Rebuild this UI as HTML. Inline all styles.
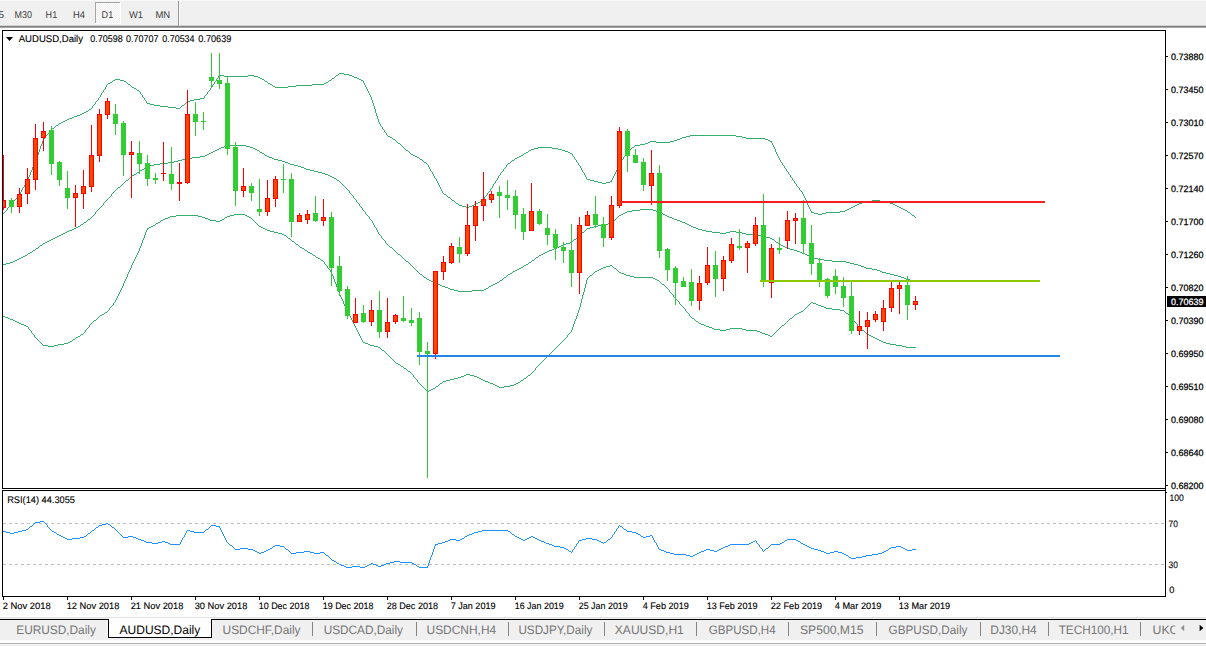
<!DOCTYPE html>
<html><head><meta charset="utf-8"><title>AUDUSD,Daily</title>
<style>
html,body{margin:0;padding:0;background:#fff;overflow:hidden}
svg{display:block}
text{font-family:"Liberation Sans",sans-serif;text-rendering:geometricPrecision}
.c{shape-rendering:crispEdges}
</style></head><body>
<svg width="1206" height="646" viewBox="0 0 1206 646">
<rect class="c" x="0" y="0" width="1206" height="646" fill="#fff"/>
<rect class="c" x="0" y="0" width="1206" height="25" fill="#f0f0f0"/>
<rect class="c" x="0" y="0" width="1206" height="1" fill="#f8f8f8"/>
<rect class="c" x="0" y="25" width="1206" height="1" fill="#d2d2d2"/>
<rect class="c" x="0" y="26" width="1206" height="1" fill="#7e7e7e"/>
<rect class="c" x="0" y="27" width="1206" height="1" fill="#a6a6a6"/>
<defs><pattern id="dz" width="2" height="2" patternUnits="userSpaceOnUse"><rect width="2" height="2" fill="#f0f0f0"/><rect width="1" height="1" fill="#fff"/><rect x="1" y="1" width="1" height="1" fill="#fff"/></pattern></defs>
<rect class="c" x="95" y="2" width="26" height="22" fill="url(#dz)"/>
<rect class="c" x="95" y="2" width="25" height="1" fill="#a4a4a4"/>
<rect class="c" x="95" y="2" width="1" height="22" fill="#a4a4a4"/>
<rect class="c" x="120" y="2" width="1" height="22" fill="#ffffff"/>
<rect class="c" x="95" y="23" width="26" height="1" fill="#ffffff"/>
<rect class="c" x="178" y="1" width="1" height="25" fill="#989898"/>
<rect class="c" x="179" y="1" width="1" height="25" fill="#fbfbfb"/>
<text x="-1.5" y="17.8" font-size="9.9" fill="#404040">5</text>
<text x="14.6" y="17.8" font-size="9.9" fill="#404040" textLength="17.4" lengthAdjust="spacingAndGlyphs">M30</text>
<text x="45.6" y="17.8" font-size="9.9" fill="#404040" textLength="11.6" lengthAdjust="spacingAndGlyphs">H1</text>
<text x="73" y="17.8" font-size="9.9" fill="#404040" textLength="12" lengthAdjust="spacingAndGlyphs">H4</text>
<text x="101.6" y="17.8" font-size="9.9" fill="#404040" textLength="11.6" lengthAdjust="spacingAndGlyphs">D1</text>
<text x="128.9" y="17.8" font-size="9.9" fill="#404040" textLength="14.1" lengthAdjust="spacingAndGlyphs">W1</text>
<text x="155.5" y="17.8" font-size="9.9" fill="#404040" textLength="14.7" lengthAdjust="spacingAndGlyphs">MN</text>
<rect class="c" x="2" y="30" width="1164" height="1" fill="#000"/>
<rect class="c" x="2" y="30" width="1" height="567" fill="#000"/>
<rect class="c" x="1165" y="30" width="1" height="567" fill="#000"/>
<rect class="c" x="2" y="488" width="1164" height="1" fill="#000"/>
<rect class="c" x="2" y="490" width="1164" height="1" fill="#000"/>
<rect class="c" x="2" y="596" width="1164" height="1" fill="#000"/>
<rect class="c" x="2" y="489" width="1" height="1" fill="#fff"/>
<rect class="c" x="1166" y="56" width="2" height="1" fill="#000"/>
<text x="1171.1" y="59.8" font-size="9.2" fill="#000" stroke="#000" stroke-width="0.25" textLength="32.4" lengthAdjust="spacingAndGlyphs">0.73880</text>
<rect class="c" x="1166" y="89" width="2" height="1" fill="#000"/>
<text x="1171.1" y="92.8" font-size="9.2" fill="#000" stroke="#000" stroke-width="0.25" textLength="32.4" lengthAdjust="spacingAndGlyphs">0.73450</text>
<rect class="c" x="1166" y="122" width="2" height="1" fill="#000"/>
<text x="1171.1" y="125.8" font-size="9.2" fill="#000" stroke="#000" stroke-width="0.25" textLength="32.4" lengthAdjust="spacingAndGlyphs">0.73010</text>
<rect class="c" x="1166" y="155" width="2" height="1" fill="#000"/>
<text x="1171.1" y="158.8" font-size="9.2" fill="#000" stroke="#000" stroke-width="0.25" textLength="32.4" lengthAdjust="spacingAndGlyphs">0.72570</text>
<rect class="c" x="1166" y="188" width="2" height="1" fill="#000"/>
<text x="1171.1" y="191.8" font-size="9.2" fill="#000" stroke="#000" stroke-width="0.25" textLength="32.4" lengthAdjust="spacingAndGlyphs">0.72140</text>
<rect class="c" x="1166" y="221" width="2" height="1" fill="#000"/>
<text x="1171.1" y="224.8" font-size="9.2" fill="#000" stroke="#000" stroke-width="0.25" textLength="32.4" lengthAdjust="spacingAndGlyphs">0.71700</text>
<rect class="c" x="1166" y="254" width="2" height="1" fill="#000"/>
<text x="1171.1" y="257.8" font-size="9.2" fill="#000" stroke="#000" stroke-width="0.25" textLength="32.4" lengthAdjust="spacingAndGlyphs">0.71260</text>
<rect class="c" x="1166" y="287" width="2" height="1" fill="#000"/>
<text x="1171.1" y="290.8" font-size="9.2" fill="#000" stroke="#000" stroke-width="0.25" textLength="32.4" lengthAdjust="spacingAndGlyphs">0.70820</text>
<rect class="c" x="1166" y="320" width="2" height="1" fill="#000"/>
<text x="1171.1" y="323.8" font-size="9.2" fill="#000" stroke="#000" stroke-width="0.25" textLength="32.4" lengthAdjust="spacingAndGlyphs">0.70390</text>
<rect class="c" x="1166" y="353" width="2" height="1" fill="#000"/>
<text x="1171.1" y="356.8" font-size="9.2" fill="#000" stroke="#000" stroke-width="0.25" textLength="32.4" lengthAdjust="spacingAndGlyphs">0.69950</text>
<rect class="c" x="1166" y="386" width="2" height="1" fill="#000"/>
<text x="1171.1" y="389.8" font-size="9.2" fill="#000" stroke="#000" stroke-width="0.25" textLength="32.4" lengthAdjust="spacingAndGlyphs">0.69510</text>
<rect class="c" x="1166" y="419" width="2" height="1" fill="#000"/>
<text x="1171.1" y="422.8" font-size="9.2" fill="#000" stroke="#000" stroke-width="0.25" textLength="32.4" lengthAdjust="spacingAndGlyphs">0.69080</text>
<rect class="c" x="1166" y="452" width="2" height="1" fill="#000"/>
<text x="1171.1" y="455.8" font-size="9.2" fill="#000" stroke="#000" stroke-width="0.25" textLength="32.4" lengthAdjust="spacingAndGlyphs">0.68640</text>
<rect class="c" x="1166" y="485" width="2" height="1" fill="#000"/>
<text x="1171.1" y="488.8" font-size="9.2" fill="#000" stroke="#000" stroke-width="0.25" textLength="32.4" lengthAdjust="spacingAndGlyphs">0.68200</text>
<rect class="c" x="1167" y="296" width="39" height="11" fill="#000"/>
<text x="1171.1" y="304.9" font-size="9.2" fill="#fff" stroke="#fff" stroke-width="0.25" textLength="32.4" lengthAdjust="spacingAndGlyphs">0.70639</text>
<path d="M6 37 L13 37 L9.5 41 Z" fill="#000"/>
<text x="18.7" y="42" font-size="9.8" fill="#000" stroke="#000" stroke-width="0.12" textLength="64.3" lengthAdjust="spacingAndGlyphs">AUDUSD,Daily</text>
<text x="90.3" y="42" font-size="9.8" fill="#000" stroke="#000" stroke-width="0.12" textLength="32.4" lengthAdjust="spacingAndGlyphs">0.70598</text>
<text x="126.1" y="42" font-size="9.8" fill="#000" stroke="#000" stroke-width="0.12" textLength="32.4" lengthAdjust="spacingAndGlyphs">0.70707</text>
<text x="162.2" y="42" font-size="9.8" fill="#000" stroke="#000" stroke-width="0.12" textLength="32.4" lengthAdjust="spacingAndGlyphs">0.70534</text>
<text x="198.3" y="42" font-size="9.8" fill="#000" stroke="#000" stroke-width="0.12" textLength="33" lengthAdjust="spacingAndGlyphs">0.70639</text>
<g clip-path="url(#cm)">
<defs><clipPath id="cm"><rect x="3" y="31" width="1162" height="457"/></clipPath></defs>
<path class="c" fill="#36ad6c" d="M339 73h5v1h-5zM338 74h1v1h-1zM344 74h5v1h-5zM219 75h5v1h-5zM248 75h6v1h-6zM336 75h2v1h-2zM349 75h3v1h-3zM218 76h1v1h-1zM224 76h24v1h-24zM254 76h4v1h-4zM335 76h1v1h-1zM352 76h2v1h-2zM218 77h1v1h-1zM258 77h2v1h-2zM334 77h1v1h-1zM354 77h3v1h-3zM217 78h1v1h-1zM260 78h2v1h-2zM332 78h2v1h-2zM357 78h2v1h-2zM115 79h5v1h-5zM216 79h1v1h-1zM262 79h2v1h-2zM331 79h1v1h-1zM359 79h2v1h-2zM113 80h2v1h-2zM120 80h4v1h-4zM216 80h1v1h-1zM264 80h1v1h-1zM329 80h2v1h-2zM361 80h2v1h-2zM112 81h1v1h-1zM124 81h2v1h-2zM215 81h1v1h-1zM265 81h2v1h-2zM328 81h1v1h-1zM363 81h1v1h-1zM110 82h2v1h-2zM126 82h1v1h-1zM214 82h1v1h-1zM267 82h1v1h-1zM326 82h2v1h-2zM363 82h1v1h-1zM108 83h2v1h-2zM127 83h1v1h-1zM214 83h1v1h-1zM268 83h2v1h-2zM324 83h2v1h-2zM364 83h1v1h-1zM107 84h1v1h-1zM128 84h2v1h-2zM213 84h1v1h-1zM270 84h2v1h-2zM312 84h12v1h-12zM364 84h1v1h-1zM106 85h1v1h-1zM130 85h1v1h-1zM212 85h1v1h-1zM272 85h1v1h-1zM296 85h16v1h-16zM365 85h1v1h-1zM106 86h1v1h-1zM131 86h1v1h-1zM212 86h1v1h-1zM273 86h2v1h-2zM288 86h8v1h-8zM365 86h1v1h-1zM105 87h1v1h-1zM132 87h2v1h-2zM211 87h1v1h-1zM275 87h13v1h-13zM366 87h1v1h-1zM105 88h1v1h-1zM134 88h2v1h-2zM210 88h1v1h-1zM366 88h1v1h-1zM104 89h1v1h-1zM136 89h1v1h-1zM210 89h1v1h-1zM367 89h1v1h-1zM103 90h1v1h-1zM137 90h2v1h-2zM209 90h1v1h-1zM367 90h1v1h-1zM103 91h1v1h-1zM139 91h1v1h-1zM208 91h1v1h-1zM368 91h1v1h-1zM102 92h1v1h-1zM140 92h1v1h-1zM207 92h1v1h-1zM368 92h1v1h-1zM101 93h1v1h-1zM140 93h1v1h-1zM207 93h1v1h-1zM369 93h1v1h-1zM101 94h1v1h-1zM141 94h1v1h-1zM206 94h1v1h-1zM369 94h1v1h-1zM100 95h1v1h-1zM142 95h1v1h-1zM205 95h1v1h-1zM370 95h1v1h-1zM100 96h1v1h-1zM142 96h1v1h-1zM204 96h1v1h-1zM370 96h1v1h-1zM99 97h1v1h-1zM143 97h1v1h-1zM204 97h1v1h-1zM371 97h1v1h-1zM98 98h1v1h-1zM144 98h1v1h-1zM200 98h4v1h-4zM371 98h1v1h-1zM98 99h1v1h-1zM144 99h1v1h-1zM194 99h6v1h-6zM371 99h1v1h-1zM97 100h1v1h-1zM145 100h1v1h-1zM190 100h4v1h-4zM372 100h1v1h-1zM96 101h1v1h-1zM146 101h1v1h-1zM187 101h3v1h-3zM372 101h1v1h-1zM95 102h1v1h-1zM146 102h1v1h-1zM186 102h1v1h-1zM372 102h1v1h-1zM95 103h1v1h-1zM147 103h3v1h-3zM185 103h1v1h-1zM373 103h1v1h-1zM94 104h1v1h-1zM150 104h4v1h-4zM184 104h1v1h-1zM373 104h1v1h-1zM93 105h1v1h-1zM154 105h6v1h-6zM182 105h2v1h-2zM373 105h1v1h-1zM92 106h1v1h-1zM160 106h8v1h-8zM181 106h1v1h-1zM374 106h1v1h-1zM92 107h1v1h-1zM168 107h8v1h-8zM180 107h1v1h-1zM374 107h1v1h-1zM91 108h1v1h-1zM176 108h4v1h-4zM374 108h1v1h-1zM89 109h2v1h-2zM375 109h1v1h-1zM88 110h1v1h-1zM375 110h1v1h-1zM86 111h2v1h-2zM375 111h1v1h-1zM84 112h2v1h-2zM375 112h1v1h-1zM82 113h2v1h-2zM376 113h1v1h-1zM80 114h2v1h-2zM376 114h1v1h-1zM77 115h3v1h-3zM376 115h1v1h-1zM74 116h3v1h-3zM377 116h1v1h-1zM72 117h2v1h-2zM377 117h1v1h-1zM69 118h3v1h-3zM377 118h1v1h-1zM67 119h2v1h-2zM378 119h1v1h-1zM65 120h2v1h-2zM378 120h1v1h-1zM63 121h2v1h-2zM378 121h1v1h-1zM61 122h2v1h-2zM379 122h1v1h-1zM59 123h2v1h-2zM379 123h1v1h-1zM58 124h1v1h-1zM380 124h1v1h-1zM56 125h2v1h-2zM380 125h1v1h-1zM55 126h1v1h-1zM381 126h1v1h-1zM54 127h1v1h-1zM382 127h1v1h-1zM52 128h2v1h-2zM382 128h1v1h-1zM51 129h1v1h-1zM383 129h1v1h-1zM50 130h1v1h-1zM384 130h1v1h-1zM49 131h1v1h-1zM384 131h1v1h-1zM49 132h1v1h-1zM385 132h1v1h-1zM48 133h1v1h-1zM386 133h1v1h-1zM47 134h1v1h-1zM386 134h1v1h-1zM46 135h1v1h-1zM387 135h1v1h-1zM690 135h46v1h-46zM45 136h1v1h-1zM388 136h2v1h-2zM686 136h4v1h-4zM736 136h6v1h-6zM45 137h1v1h-1zM390 137h2v1h-2zM682 137h4v1h-4zM742 137h4v1h-4zM44 138h1v1h-1zM392 138h1v1h-1zM680 138h2v1h-2zM746 138h19v1h-19zM43 139h1v1h-1zM393 139h2v1h-2zM677 139h3v1h-3zM765 139h3v1h-3zM43 140h1v1h-1zM395 140h1v1h-1zM674 140h3v1h-3zM768 140h2v1h-2zM42 141h1v1h-1zM396 141h1v1h-1zM650 141h6v1h-6zM670 141h4v1h-4zM770 141h2v1h-2zM42 142h1v1h-1zM397 142h1v1h-1zM648 142h2v1h-2zM656 142h14v1h-14zM771 142h1v1h-1zM42 143h1v1h-1zM398 143h2v1h-2zM645 143h3v1h-3zM772 143h1v1h-1zM41 144h1v1h-1zM400 144h1v1h-1zM640 144h5v1h-5zM772 144h1v1h-1zM41 145h1v1h-1zM401 145h1v1h-1zM635 145h5v1h-5zM773 145h1v1h-1zM40 146h1v1h-1zM402 146h1v1h-1zM634 146h1v1h-1zM773 146h1v1h-1zM40 147h1v1h-1zM403 147h1v1h-1zM538 147h14v1h-14zM632 147h2v1h-2zM774 147h1v1h-1zM40 148h1v1h-1zM404 148h1v1h-1zM534 148h4v1h-4zM552 148h6v1h-6zM631 148h1v1h-1zM774 148h1v1h-1zM39 149h1v1h-1zM405 149h1v1h-1zM531 149h3v1h-3zM558 149h4v1h-4zM630 149h1v1h-1zM775 149h1v1h-1zM39 150h1v1h-1zM406 150h2v1h-2zM529 150h2v1h-2zM562 150h3v1h-3zM628 150h2v1h-2zM775 150h1v1h-1zM39 151h1v1h-1zM408 151h1v1h-1zM528 151h1v1h-1zM565 151h3v1h-3zM627 151h1v1h-1zM775 151h1v1h-1zM38 152h1v1h-1zM409 152h1v1h-1zM526 152h2v1h-2zM568 152h2v1h-2zM626 152h1v1h-1zM776 152h1v1h-1zM38 153h1v1h-1zM410 153h1v1h-1zM524 153h2v1h-2zM570 153h2v1h-2zM626 153h1v1h-1zM776 153h1v1h-1zM38 154h1v1h-1zM411 154h2v1h-2zM523 154h1v1h-1zM572 154h1v1h-1zM625 154h1v1h-1zM777 154h1v1h-1zM37 155h1v1h-1zM413 155h2v1h-2zM521 155h2v1h-2zM572 155h1v1h-1zM625 155h1v1h-1zM777 155h1v1h-1zM37 156h1v1h-1zM415 156h2v1h-2zM519 156h2v1h-2zM573 156h1v1h-1zM624 156h1v1h-1zM778 156h1v1h-1zM36 157h1v1h-1zM417 157h2v1h-2zM517 157h2v1h-2zM574 157h1v1h-1zM623 157h1v1h-1zM778 157h1v1h-1zM36 158h1v1h-1zM419 158h1v1h-1zM515 158h2v1h-2zM574 158h1v1h-1zM623 158h1v1h-1zM779 158h1v1h-1zM36 159h1v1h-1zM420 159h2v1h-2zM514 159h1v1h-1zM575 159h1v1h-1zM622 159h1v1h-1zM779 159h1v1h-1zM35 160h1v1h-1zM422 160h1v1h-1zM512 160h2v1h-2zM576 160h1v1h-1zM621 160h1v1h-1zM780 160h1v1h-1zM35 161h1v1h-1zM423 161h1v1h-1zM511 161h1v1h-1zM576 161h1v1h-1zM621 161h1v1h-1zM780 161h1v1h-1zM35 162h1v1h-1zM424 162h2v1h-2zM510 162h1v1h-1zM577 162h1v1h-1zM620 162h1v1h-1zM781 162h1v1h-1zM34 163h1v1h-1zM426 163h1v1h-1zM508 163h2v1h-2zM578 163h1v1h-1zM620 163h1v1h-1zM782 163h1v1h-1zM34 164h1v1h-1zM427 164h1v1h-1zM507 164h1v1h-1zM578 164h1v1h-1zM619 164h1v1h-1zM782 164h1v1h-1zM33 165h1v1h-1zM428 165h1v1h-1zM506 165h1v1h-1zM579 165h1v1h-1zM619 165h1v1h-1zM783 165h1v1h-1zM33 166h1v1h-1zM428 166h1v1h-1zM506 166h1v1h-1zM580 166h1v1h-1zM618 166h1v1h-1zM784 166h1v1h-1zM32 167h1v1h-1zM429 167h1v1h-1zM505 167h1v1h-1zM580 167h1v1h-1zM618 167h1v1h-1zM784 167h1v1h-1zM32 168h1v1h-1zM429 168h1v1h-1zM504 168h1v1h-1zM581 168h1v1h-1zM617 168h1v1h-1zM785 168h1v1h-1zM32 169h1v1h-1zM430 169h1v1h-1zM503 169h1v1h-1zM581 169h1v1h-1zM617 169h1v1h-1zM786 169h1v1h-1zM31 170h1v1h-1zM430 170h1v1h-1zM503 170h1v1h-1zM582 170h1v1h-1zM616 170h1v1h-1zM786 170h1v1h-1zM31 171h1v1h-1zM431 171h1v1h-1zM502 171h1v1h-1zM582 171h1v1h-1zM616 171h1v1h-1zM787 171h1v1h-1zM30 172h1v1h-1zM432 172h1v1h-1zM501 172h1v1h-1zM583 172h1v1h-1zM615 172h1v1h-1zM788 172h1v1h-1zM30 173h1v1h-1zM432 173h1v1h-1zM500 173h1v1h-1zM584 173h1v1h-1zM615 173h1v1h-1zM788 173h1v1h-1zM30 174h1v1h-1zM433 174h1v1h-1zM500 174h1v1h-1zM584 174h1v1h-1zM614 174h1v1h-1zM789 174h1v1h-1zM29 175h1v1h-1zM433 175h1v1h-1zM499 175h1v1h-1zM585 175h1v1h-1zM614 175h1v1h-1zM790 175h1v1h-1zM29 176h1v1h-1zM434 176h1v1h-1zM498 176h1v1h-1zM585 176h1v1h-1zM613 176h1v1h-1zM790 176h1v1h-1zM28 177h1v1h-1zM434 177h1v1h-1zM498 177h1v1h-1zM586 177h1v1h-1zM613 177h1v1h-1zM791 177h1v1h-1zM28 178h1v1h-1zM435 178h1v1h-1zM497 178h1v1h-1zM586 178h1v1h-1zM612 178h1v1h-1zM792 178h1v1h-1zM27 179h1v1h-1zM436 179h1v1h-1zM497 179h1v1h-1zM587 179h3v1h-3zM612 179h1v1h-1zM792 179h1v1h-1zM27 180h1v1h-1zM436 180h1v1h-1zM496 180h1v1h-1zM590 180h4v1h-4zM611 180h1v1h-1zM793 180h1v1h-1zM26 181h1v1h-1zM437 181h1v1h-1zM495 181h1v1h-1zM594 181h4v1h-4zM610 181h2v1h-2zM794 181h1v1h-1zM26 182h1v1h-1zM437 182h1v1h-1zM495 182h1v1h-1zM598 182h4v1h-4zM606 182h4v1h-4zM794 182h1v1h-1zM25 183h1v1h-1zM438 183h1v1h-1zM494 183h1v1h-1zM602 183h4v1h-4zM795 183h1v1h-1zM25 184h1v1h-1zM438 184h1v1h-1zM493 184h1v1h-1zM796 184h1v1h-1zM24 185h1v1h-1zM439 185h1v1h-1zM493 185h1v1h-1zM796 185h1v1h-1zM24 186h1v1h-1zM439 186h1v1h-1zM492 186h1v1h-1zM797 186h1v1h-1zM23 187h1v1h-1zM440 187h1v1h-1zM492 187h1v1h-1zM798 187h1v1h-1zM22 188h1v1h-1zM440 188h1v1h-1zM491 188h1v1h-1zM799 188h1v1h-1zM22 189h1v1h-1zM441 189h1v1h-1zM490 189h1v1h-1zM799 189h1v1h-1zM21 190h1v1h-1zM441 190h1v1h-1zM490 190h1v1h-1zM800 190h1v1h-1zM21 191h1v1h-1zM442 191h1v1h-1zM489 191h1v1h-1zM801 191h1v1h-1zM20 192h1v1h-1zM442 192h1v1h-1zM488 192h1v1h-1zM802 192h1v1h-1zM20 193h1v1h-1zM443 193h1v1h-1zM487 193h1v1h-1zM802 193h1v1h-1zM19 194h1v1h-1zM444 194h2v1h-2zM487 194h1v1h-1zM803 194h1v1h-1zM18 195h1v1h-1zM446 195h1v1h-1zM486 195h1v1h-1zM803 195h1v1h-1zM17 196h1v1h-1zM447 196h1v1h-1zM485 196h1v1h-1zM804 196h1v1h-1zM17 197h1v1h-1zM448 197h2v1h-2zM484 197h1v1h-1zM804 197h1v1h-1zM16 198h1v1h-1zM450 198h1v1h-1zM484 198h1v1h-1zM805 198h1v1h-1zM15 199h1v1h-1zM451 199h1v1h-1zM483 199h1v1h-1zM805 199h1v1h-1zM14 200h1v1h-1zM452 200h2v1h-2zM481 200h2v1h-2zM806 200h1v1h-1zM872 200h8v1h-8zM13 201h1v1h-1zM454 201h1v1h-1zM480 201h1v1h-1zM806 201h1v1h-1zM866 201h6v1h-6zM880 201h6v1h-6zM13 202h1v1h-1zM455 202h1v1h-1zM478 202h2v1h-2zM807 202h1v1h-1zM862 202h4v1h-4zM886 202h4v1h-4zM12 203h1v1h-1zM456 203h2v1h-2zM476 203h2v1h-2zM807 203h1v1h-1zM859 203h3v1h-3zM890 203h3v1h-3zM11 204h1v1h-1zM458 204h1v1h-1zM474 204h2v1h-2zM807 204h1v1h-1zM857 204h2v1h-2zM893 204h2v1h-2zM10 205h1v1h-1zM459 205h3v1h-3zM472 205h2v1h-2zM808 205h1v1h-1zM855 205h2v1h-2zM895 205h2v1h-2zM9 206h1v1h-1zM462 206h4v1h-4zM469 206h3v1h-3zM808 206h1v1h-1zM853 206h2v1h-2zM897 206h2v1h-2zM8 207h1v1h-1zM466 207h3v1h-3zM809 207h1v1h-1zM851 207h2v1h-2zM899 207h2v1h-2zM7 208h1v1h-1zM809 208h1v1h-1zM849 208h2v1h-2zM901 208h2v1h-2zM7 209h1v1h-1zM810 209h1v1h-1zM847 209h2v1h-2zM903 209h2v1h-2zM6 210h1v1h-1zM810 210h1v1h-1zM845 210h2v1h-2zM905 210h2v1h-2zM5 211h1v1h-1zM811 211h1v1h-1zM840 211h5v1h-5zM907 211h1v1h-1zM4 212h1v1h-1zM811 212h3v1h-3zM826 212h14v1h-14zM908 212h2v1h-2zM3 213h1v1h-1zM814 213h4v1h-4zM822 213h4v1h-4zM910 213h1v1h-1zM818 214h4v1h-4zM911 214h1v1h-1zM912 215h2v1h-2zM914 216h1v1h-1zM915 217h1v1h-1z"/>
<path class="c" fill="#36ad6c" d="M226 145h20v1h-20zM224 146h2v1h-2zM246 146h4v1h-4zM221 147h3v1h-3zM250 147h3v1h-3zM219 148h2v1h-2zM253 148h2v1h-2zM217 149h2v1h-2zM255 149h2v1h-2zM215 150h2v1h-2zM257 150h2v1h-2zM213 151h2v1h-2zM259 151h1v1h-1zM211 152h2v1h-2zM260 152h2v1h-2zM209 153h2v1h-2zM262 153h2v1h-2zM207 154h2v1h-2zM264 154h1v1h-1zM205 155h2v1h-2zM265 155h2v1h-2zM200 156h5v1h-5zM267 156h2v1h-2zM192 157h8v1h-8zM269 157h3v1h-3zM186 158h6v1h-6zM272 158h2v1h-2zM182 159h4v1h-4zM274 159h4v1h-4zM178 160h4v1h-4zM278 160h4v1h-4zM174 161h4v1h-4zM282 161h3v1h-3zM168 162h6v1h-6zM285 162h3v1h-3zM160 163h8v1h-8zM288 163h2v1h-2zM154 164h6v1h-6zM290 164h4v1h-4zM150 165h4v1h-4zM294 165h4v1h-4zM147 166h3v1h-3zM298 166h3v1h-3zM145 167h2v1h-2zM301 167h3v1h-3zM144 168h1v1h-1zM304 168h2v1h-2zM142 169h2v1h-2zM306 169h4v1h-4zM140 170h2v1h-2zM310 170h4v1h-4zM139 171h1v1h-1zM314 171h4v1h-4zM137 172h2v1h-2zM318 172h4v1h-4zM136 173h1v1h-1zM322 173h3v1h-3zM134 174h2v1h-2zM325 174h3v1h-3zM132 175h2v1h-2zM328 175h2v1h-2zM131 176h1v1h-1zM330 176h2v1h-2zM130 177h1v1h-1zM332 177h2v1h-2zM129 178h1v1h-1zM334 178h2v1h-2zM128 179h1v1h-1zM336 179h1v1h-1zM126 180h2v1h-2zM337 180h2v1h-2zM125 181h1v1h-1zM339 181h1v1h-1zM124 182h1v1h-1zM340 182h1v1h-1zM123 183h1v1h-1zM341 183h1v1h-1zM122 184h1v1h-1zM342 184h1v1h-1zM121 185h1v1h-1zM343 185h1v1h-1zM120 186h1v1h-1zM344 186h1v1h-1zM118 187h2v1h-2zM345 187h1v1h-1zM117 188h1v1h-1zM346 188h1v1h-1zM116 189h1v1h-1zM347 189h1v1h-1zM115 190h1v1h-1zM348 190h1v1h-1zM114 191h1v1h-1zM349 191h1v1h-1zM113 192h1v1h-1zM349 192h1v1h-1zM112 193h1v1h-1zM350 193h1v1h-1zM111 194h1v1h-1zM351 194h1v1h-1zM111 195h1v1h-1zM352 195h1v1h-1zM110 196h1v1h-1zM353 196h1v1h-1zM109 197h1v1h-1zM353 197h1v1h-1zM108 198h1v1h-1zM354 198h1v1h-1zM107 199h1v1h-1zM355 199h1v1h-1zM106 200h1v1h-1zM356 200h1v1h-1zM105 201h1v1h-1zM356 201h1v1h-1zM104 202h1v1h-1zM357 202h1v1h-1zM103 203h1v1h-1zM358 203h1v1h-1zM103 204h1v1h-1zM359 204h1v1h-1zM102 205h1v1h-1zM359 205h1v1h-1zM101 206h1v1h-1zM360 206h1v1h-1zM100 207h1v1h-1zM361 207h1v1h-1zM99 208h1v1h-1zM362 208h1v1h-1zM98 209h1v1h-1zM362 209h1v1h-1zM640 209h13v1h-13zM97 210h1v1h-1zM363 210h1v1h-1zM632 210h8v1h-8zM653 210h3v1h-3zM96 211h1v1h-1zM364 211h1v1h-1zM627 211h5v1h-5zM656 211h2v1h-2zM95 212h1v1h-1zM365 212h1v1h-1zM625 212h2v1h-2zM658 212h3v1h-3zM95 213h1v1h-1zM365 213h1v1h-1zM623 213h2v1h-2zM661 213h2v1h-2zM94 214h1v1h-1zM366 214h1v1h-1zM621 214h2v1h-2zM663 214h2v1h-2zM93 215h1v1h-1zM367 215h1v1h-1zM619 215h2v1h-2zM665 215h2v1h-2zM92 216h1v1h-1zM368 216h1v1h-1zM618 216h1v1h-1zM667 216h2v1h-2zM91 217h1v1h-1zM369 217h1v1h-1zM617 217h1v1h-1zM669 217h3v1h-3zM90 218h1v1h-1zM369 218h1v1h-1zM616 218h1v1h-1zM672 218h2v1h-2zM88 219h2v1h-2zM370 219h1v1h-1zM615 219h1v1h-1zM674 219h3v1h-3zM87 220h1v1h-1zM371 220h1v1h-1zM614 220h1v1h-1zM677 220h3v1h-3zM86 221h1v1h-1zM372 221h1v1h-1zM613 221h1v1h-1zM680 221h2v1h-2zM84 222h2v1h-2zM372 222h1v1h-1zM612 222h1v1h-1zM682 222h3v1h-3zM83 223h1v1h-1zM373 223h1v1h-1zM608 223h4v1h-4zM685 223h2v1h-2zM81 224h2v1h-2zM373 224h1v1h-1zM602 224h6v1h-6zM687 224h2v1h-2zM80 225h1v1h-1zM374 225h1v1h-1zM598 225h4v1h-4zM689 225h2v1h-2zM78 226h2v1h-2zM374 226h1v1h-1zM594 226h4v1h-4zM691 226h2v1h-2zM76 227h2v1h-2zM375 227h1v1h-1zM590 227h4v1h-4zM693 227h3v1h-3zM74 228h2v1h-2zM376 228h1v1h-1zM587 228h3v1h-3zM696 228h2v1h-2zM72 229h2v1h-2zM376 229h1v1h-1zM586 229h1v1h-1zM698 229h4v1h-4zM69 230h3v1h-3zM377 230h1v1h-1zM585 230h1v1h-1zM702 230h4v1h-4zM67 231h2v1h-2zM377 231h1v1h-1zM584 231h1v1h-1zM706 231h6v1h-6zM730 231h6v1h-6zM65 232h2v1h-2zM378 232h1v1h-1zM582 232h2v1h-2zM712 232h8v1h-8zM726 232h4v1h-4zM736 232h6v1h-6zM63 233h2v1h-2zM378 233h1v1h-1zM581 233h1v1h-1zM720 233h6v1h-6zM742 233h4v1h-4zM61 234h2v1h-2zM379 234h1v1h-1zM580 234h1v1h-1zM746 234h12v1h-12zM59 235h2v1h-2zM380 235h1v1h-1zM579 235h1v1h-1zM758 235h4v1h-4zM57 236h2v1h-2zM381 236h1v1h-1zM578 236h1v1h-1zM762 236h4v1h-4zM55 237h2v1h-2zM381 237h1v1h-1zM577 237h1v1h-1zM766 237h4v1h-4zM53 238h2v1h-2zM382 238h1v1h-1zM576 238h1v1h-1zM770 238h2v1h-2zM51 239h2v1h-2zM383 239h1v1h-1zM574 239h2v1h-2zM772 239h2v1h-2zM49 240h2v1h-2zM384 240h1v1h-1zM573 240h1v1h-1zM774 240h1v1h-1zM47 241h2v1h-2zM385 241h1v1h-1zM572 241h1v1h-1zM775 241h1v1h-1zM45 242h2v1h-2zM385 242h1v1h-1zM570 242h2v1h-2zM776 242h2v1h-2zM43 243h2v1h-2zM386 243h1v1h-1zM566 243h4v1h-4zM778 243h1v1h-1zM42 244h1v1h-1zM387 244h1v1h-1zM563 244h3v1h-3zM779 244h2v1h-2zM40 245h2v1h-2zM388 245h1v1h-1zM561 245h2v1h-2zM781 245h2v1h-2zM39 246h1v1h-1zM389 246h1v1h-1zM559 246h2v1h-2zM783 246h2v1h-2zM38 247h1v1h-1zM390 247h2v1h-2zM557 247h2v1h-2zM785 247h2v1h-2zM36 248h2v1h-2zM392 248h1v1h-1zM554 248h3v1h-3zM787 248h3v1h-3zM35 249h1v1h-1zM393 249h1v1h-1zM552 249h2v1h-2zM790 249h4v1h-4zM33 250h2v1h-2zM394 250h1v1h-1zM549 250h3v1h-3zM794 250h3v1h-3zM32 251h1v1h-1zM395 251h1v1h-1zM547 251h2v1h-2zM797 251h3v1h-3zM30 252h2v1h-2zM396 252h1v1h-1zM545 252h2v1h-2zM800 252h2v1h-2zM28 253h2v1h-2zM397 253h1v1h-1zM543 253h2v1h-2zM802 253h3v1h-3zM27 254h1v1h-1zM398 254h2v1h-2zM541 254h2v1h-2zM805 254h2v1h-2zM25 255h2v1h-2zM400 255h1v1h-1zM539 255h2v1h-2zM807 255h2v1h-2zM23 256h2v1h-2zM401 256h1v1h-1zM538 256h1v1h-1zM809 256h2v1h-2zM21 257h2v1h-2zM402 257h1v1h-1zM536 257h2v1h-2zM811 257h3v1h-3zM19 258h2v1h-2zM403 258h1v1h-1zM535 258h1v1h-1zM814 258h4v1h-4zM17 259h2v1h-2zM404 259h1v1h-1zM534 259h1v1h-1zM818 259h6v1h-6zM15 260h2v1h-2zM405 260h1v1h-1zM532 260h2v1h-2zM824 260h8v1h-8zM13 261h2v1h-2zM406 261h2v1h-2zM531 261h1v1h-1zM832 261h14v1h-14zM10 262h3v1h-3zM408 262h1v1h-1zM529 262h2v1h-2zM846 262h4v1h-4zM6 263h4v1h-4zM409 263h1v1h-1zM528 263h1v1h-1zM850 263h4v1h-4zM3 264h3v1h-3zM410 264h1v1h-1zM526 264h2v1h-2zM854 264h4v1h-4zM411 265h1v1h-1zM524 265h2v1h-2zM858 265h3v1h-3zM412 266h1v1h-1zM523 266h1v1h-1zM861 266h3v1h-3zM413 267h1v1h-1zM521 267h2v1h-2zM864 267h2v1h-2zM414 268h1v1h-1zM519 268h2v1h-2zM866 268h6v1h-6zM415 269h1v1h-1zM517 269h2v1h-2zM872 269h5v1h-5zM416 270h1v1h-1zM515 270h2v1h-2zM877 270h3v1h-3zM417 271h1v1h-1zM513 271h2v1h-2zM880 271h2v1h-2zM418 272h1v1h-1zM512 272h1v1h-1zM882 272h4v1h-4zM419 273h1v1h-1zM510 273h2v1h-2zM886 273h4v1h-4zM420 274h2v1h-2zM508 274h2v1h-2zM890 274h4v1h-4zM422 275h1v1h-1zM507 275h1v1h-1zM894 275h4v1h-4zM423 276h1v1h-1zM506 276h1v1h-1zM898 276h3v1h-3zM424 277h2v1h-2zM504 277h2v1h-2zM901 277h3v1h-3zM426 278h1v1h-1zM503 278h1v1h-1zM904 278h2v1h-2zM427 279h2v1h-2zM502 279h1v1h-1zM906 279h4v1h-4zM429 280h2v1h-2zM500 280h2v1h-2zM910 280h4v1h-4zM431 281h2v1h-2zM499 281h1v1h-1zM914 281h2v1h-2zM433 282h2v1h-2zM497 282h2v1h-2zM435 283h2v1h-2zM495 283h2v1h-2zM437 284h3v1h-3zM493 284h2v1h-2zM440 285h2v1h-2zM491 285h2v1h-2zM442 286h3v1h-3zM489 286h2v1h-2zM445 287h3v1h-3zM488 287h1v1h-1zM448 288h2v1h-2zM486 288h2v1h-2zM450 289h4v1h-4zM484 289h2v1h-2zM454 290h4v1h-4zM472 290h12v1h-12zM458 291h14v1h-14z"/>
<path class="c" fill="#36ad6c" d="M234 214h11v1h-11zM176 215h22v1h-22zM230 215h4v1h-4zM245 215h2v1h-2zM170 216h6v1h-6zM198 216h4v1h-4zM227 216h3v1h-3zM247 216h2v1h-2zM168 217h2v1h-2zM202 217h3v1h-3zM225 217h2v1h-2zM249 217h2v1h-2zM165 218h3v1h-3zM205 218h3v1h-3zM224 218h1v1h-1zM251 218h1v1h-1zM163 219h2v1h-2zM208 219h2v1h-2zM222 219h2v1h-2zM252 219h1v1h-1zM161 220h2v1h-2zM210 220h6v1h-6zM220 220h2v1h-2zM253 220h1v1h-1zM160 221h1v1h-1zM216 221h4v1h-4zM254 221h1v1h-1zM158 222h2v1h-2zM255 222h1v1h-1zM156 223h2v1h-2zM256 223h1v1h-1zM155 224h1v1h-1zM257 224h1v1h-1zM153 225h2v1h-2zM258 225h1v1h-1zM151 226h2v1h-2zM259 226h2v1h-2zM149 227h2v1h-2zM261 227h2v1h-2zM147 228h2v1h-2zM263 228h2v1h-2zM147 229h1v1h-1zM265 229h2v1h-2zM146 230h1v1h-1zM267 230h3v1h-3zM146 231h1v1h-1zM270 231h4v1h-4zM145 232h1v1h-1zM274 232h4v1h-4zM145 233h1v1h-1zM278 233h4v1h-4zM145 234h1v1h-1zM282 234h2v1h-2zM144 235h1v1h-1zM284 235h2v1h-2zM144 236h1v1h-1zM286 236h1v1h-1zM144 237h1v1h-1zM287 237h1v1h-1zM143 238h1v1h-1zM288 238h2v1h-2zM143 239h1v1h-1zM290 239h1v1h-1zM142 240h1v1h-1zM291 240h1v1h-1zM142 241h1v1h-1zM292 241h2v1h-2zM142 242h1v1h-1zM294 242h1v1h-1zM141 243h1v1h-1zM295 243h1v1h-1zM141 244h1v1h-1zM296 244h2v1h-2zM141 245h1v1h-1zM298 245h1v1h-1zM140 246h1v1h-1zM299 246h1v1h-1zM140 247h1v1h-1zM300 247h2v1h-2zM139 248h1v1h-1zM302 248h2v1h-2zM139 249h1v1h-1zM304 249h1v1h-1zM139 250h1v1h-1zM305 250h2v1h-2zM138 251h1v1h-1zM307 251h1v1h-1zM138 252h1v1h-1zM308 252h2v1h-2zM137 253h1v1h-1zM310 253h2v1h-2zM137 254h1v1h-1zM312 254h1v1h-1zM136 255h1v1h-1zM313 255h2v1h-2zM136 256h1v1h-1zM315 256h1v1h-1zM135 257h1v1h-1zM316 257h2v1h-2zM135 258h1v1h-1zM318 258h2v1h-2zM134 259h1v1h-1zM320 259h1v1h-1zM134 260h1v1h-1zM321 260h2v1h-2zM133 261h1v1h-1zM323 261h1v1h-1zM133 262h1v1h-1zM324 262h1v1h-1zM132 263h1v1h-1zM324 263h1v1h-1zM132 264h1v1h-1zM325 264h1v1h-1zM131 265h1v1h-1zM326 265h1v1h-1zM610 265h2v1h-2zM131 266h1v1h-1zM327 266h1v1h-1zM606 266h4v1h-4zM612 266h1v1h-1zM131 267h1v1h-1zM327 267h1v1h-1zM603 267h3v1h-3zM613 267h1v1h-1zM130 268h1v1h-1zM328 268h1v1h-1zM601 268h2v1h-2zM614 268h2v1h-2zM130 269h1v1h-1zM329 269h1v1h-1zM599 269h2v1h-2zM616 269h1v1h-1zM129 270h1v1h-1zM330 270h1v1h-1zM597 270h2v1h-2zM617 270h1v1h-1zM129 271h1v1h-1zM330 271h1v1h-1zM595 271h2v1h-2zM618 271h1v1h-1zM128 272h1v1h-1zM331 272h1v1h-1zM594 272h1v1h-1zM619 272h2v1h-2zM128 273h1v1h-1zM331 273h1v1h-1zM593 273h1v1h-1zM621 273h3v1h-3zM127 274h1v1h-1zM332 274h1v1h-1zM592 274h1v1h-1zM624 274h2v1h-2zM127 275h1v1h-1zM332 275h1v1h-1zM590 275h2v1h-2zM626 275h4v1h-4zM127 276h1v1h-1zM333 276h1v1h-1zM589 276h1v1h-1zM630 276h4v1h-4zM126 277h1v1h-1zM333 277h1v1h-1zM588 277h1v1h-1zM634 277h19v1h-19zM126 278h1v1h-1zM333 278h1v1h-1zM587 278h1v1h-1zM653 278h2v1h-2zM125 279h1v1h-1zM334 279h1v1h-1zM587 279h1v1h-1zM655 279h2v1h-2zM125 280h1v1h-1zM334 280h1v1h-1zM586 280h1v1h-1zM657 280h2v1h-2zM124 281h1v1h-1zM334 281h1v1h-1zM586 281h1v1h-1zM659 281h1v1h-1zM124 282h1v1h-1zM335 282h1v1h-1zM586 282h1v1h-1zM660 282h1v1h-1zM123 283h1v1h-1zM335 283h1v1h-1zM586 283h1v1h-1zM661 283h1v1h-1zM123 284h1v1h-1zM336 284h1v1h-1zM585 284h1v1h-1zM662 284h2v1h-2zM123 285h1v1h-1zM336 285h1v1h-1zM585 285h1v1h-1zM664 285h1v1h-1zM122 286h1v1h-1zM336 286h1v1h-1zM585 286h1v1h-1zM665 286h1v1h-1zM122 287h1v1h-1zM337 287h1v1h-1zM585 287h1v1h-1zM666 287h1v1h-1zM121 288h1v1h-1zM337 288h1v1h-1zM584 288h1v1h-1zM667 288h1v1h-1zM121 289h1v1h-1zM337 289h1v1h-1zM584 289h1v1h-1zM668 289h1v1h-1zM120 290h1v1h-1zM338 290h1v1h-1zM584 290h1v1h-1zM669 290h1v1h-1zM120 291h1v1h-1zM338 291h1v1h-1zM584 291h1v1h-1zM669 291h1v1h-1zM119 292h1v1h-1zM339 292h1v1h-1zM583 292h1v1h-1zM670 292h1v1h-1zM119 293h1v1h-1zM339 293h1v1h-1zM583 293h1v1h-1zM671 293h1v1h-1zM118 294h1v1h-1zM339 294h1v1h-1zM583 294h1v1h-1zM672 294h1v1h-1zM118 295h1v1h-1zM340 295h1v1h-1zM582 295h1v1h-1zM673 295h1v1h-1zM117 296h1v1h-1zM340 296h1v1h-1zM582 296h1v1h-1zM673 296h1v1h-1zM117 297h1v1h-1zM341 297h1v1h-1zM582 297h1v1h-1zM674 297h1v1h-1zM116 298h1v1h-1zM341 298h1v1h-1zM582 298h1v1h-1zM675 298h1v1h-1zM116 299h1v1h-1zM342 299h1v1h-1zM581 299h1v1h-1zM676 299h1v1h-1zM115 300h1v1h-1zM342 300h1v1h-1zM581 300h1v1h-1zM677 300h1v1h-1zM115 301h1v1h-1zM343 301h1v1h-1zM581 301h1v1h-1zM678 301h1v1h-1zM114 302h1v1h-1zM343 302h1v1h-1zM581 302h1v1h-1zM679 302h1v1h-1zM811 302h2v1h-2zM113 303h1v1h-1zM343 303h1v1h-1zM580 303h1v1h-1zM679 303h1v1h-1zM810 303h1v1h-1zM813 303h3v1h-3zM113 304h1v1h-1zM344 304h1v1h-1zM580 304h1v1h-1zM680 304h1v1h-1zM809 304h1v1h-1zM816 304h2v1h-2zM112 305h1v1h-1zM344 305h1v1h-1zM580 305h1v1h-1zM681 305h1v1h-1zM808 305h1v1h-1zM818 305h3v1h-3zM111 306h1v1h-1zM345 306h1v1h-1zM580 306h1v1h-1zM682 306h1v1h-1zM807 306h1v1h-1zM821 306h3v1h-3zM110 307h1v1h-1zM345 307h1v1h-1zM579 307h1v1h-1zM683 307h1v1h-1zM806 307h1v1h-1zM824 307h2v1h-2zM109 308h1v1h-1zM346 308h1v1h-1zM579 308h1v1h-1zM684 308h1v1h-1zM805 308h1v1h-1zM826 308h6v1h-6zM109 309h1v1h-1zM346 309h1v1h-1zM579 309h1v1h-1zM685 309h1v1h-1zM804 309h1v1h-1zM832 309h8v1h-8zM108 310h1v1h-1zM347 310h1v1h-1zM578 310h1v1h-1zM685 310h1v1h-1zM803 310h1v1h-1zM840 310h4v1h-4zM107 311h1v1h-1zM347 311h1v1h-1zM578 311h1v1h-1zM686 311h1v1h-1zM801 311h2v1h-2zM844 311h1v1h-1zM105 312h2v1h-2zM348 312h1v1h-1zM578 312h1v1h-1zM687 312h1v1h-1zM799 312h2v1h-2zM845 312h1v1h-1zM104 313h1v1h-1zM348 313h1v1h-1zM577 313h1v1h-1zM688 313h1v1h-1zM797 313h2v1h-2zM846 313h2v1h-2zM102 314h2v1h-2zM349 314h1v1h-1zM577 314h1v1h-1zM689 314h1v1h-1zM795 314h2v1h-2zM848 314h1v1h-1zM100 315h2v1h-2zM349 315h1v1h-1zM577 315h1v1h-1zM689 315h1v1h-1zM794 315h1v1h-1zM849 315h1v1h-1zM3 316h2v1h-2zM99 316h1v1h-1zM350 316h1v1h-1zM576 316h1v1h-1zM690 316h1v1h-1zM793 316h1v1h-1zM850 316h1v1h-1zM5 317h3v1h-3zM98 317h1v1h-1zM350 317h1v1h-1zM576 317h1v1h-1zM691 317h1v1h-1zM792 317h1v1h-1zM851 317h1v1h-1zM8 318h2v1h-2zM97 318h1v1h-1zM351 318h1v1h-1zM576 318h1v1h-1zM692 318h2v1h-2zM790 318h2v1h-2zM852 318h1v1h-1zM10 319h3v1h-3zM96 319h1v1h-1zM351 319h1v1h-1zM575 319h1v1h-1zM694 319h1v1h-1zM789 319h1v1h-1zM853 319h1v1h-1zM13 320h2v1h-2zM94 320h2v1h-2zM352 320h1v1h-1zM575 320h1v1h-1zM695 320h1v1h-1zM788 320h1v1h-1zM853 320h1v1h-1zM15 321h2v1h-2zM93 321h1v1h-1zM352 321h1v1h-1zM574 321h1v1h-1zM696 321h2v1h-2zM787 321h1v1h-1zM854 321h1v1h-1zM17 322h2v1h-2zM92 322h1v1h-1zM353 322h1v1h-1zM574 322h1v1h-1zM698 322h1v1h-1zM786 322h1v1h-1zM855 322h1v1h-1zM19 323h2v1h-2zM91 323h1v1h-1zM353 323h1v1h-1zM574 323h1v1h-1zM699 323h2v1h-2zM785 323h1v1h-1zM856 323h1v1h-1zM21 324h3v1h-3zM90 324h1v1h-1zM354 324h1v1h-1zM573 324h1v1h-1zM701 324h3v1h-3zM784 324h1v1h-1zM857 324h1v1h-1zM24 325h2v1h-2zM89 325h1v1h-1zM354 325h1v1h-1zM573 325h1v1h-1zM704 325h2v1h-2zM782 325h2v1h-2zM857 325h1v1h-1zM26 326h2v1h-2zM89 326h1v1h-1zM355 326h1v1h-1zM573 326h1v1h-1zM706 326h3v1h-3zM781 326h1v1h-1zM858 326h1v1h-1zM28 327h1v1h-1zM88 327h1v1h-1zM355 327h1v1h-1zM572 327h1v1h-1zM709 327h3v1h-3zM780 327h1v1h-1zM859 327h1v1h-1zM28 328h1v1h-1zM87 328h1v1h-1zM356 328h1v1h-1zM572 328h1v1h-1zM712 328h2v1h-2zM730 328h12v1h-12zM779 328h1v1h-1zM860 328h1v1h-1zM29 329h1v1h-1zM86 329h1v1h-1zM356 329h1v1h-1zM572 329h1v1h-1zM714 329h6v1h-6zM726 329h4v1h-4zM742 329h4v1h-4zM778 329h1v1h-1zM861 329h1v1h-1zM30 330h1v1h-1zM85 330h1v1h-1zM357 330h1v1h-1zM571 330h1v1h-1zM720 330h6v1h-6zM746 330h11v1h-11zM777 330h1v1h-1zM862 330h2v1h-2zM31 331h1v1h-1zM85 331h1v1h-1zM357 331h1v1h-1zM571 331h1v1h-1zM757 331h3v1h-3zM776 331h1v1h-1zM864 331h1v1h-1zM31 332h1v1h-1zM84 332h1v1h-1zM358 332h1v1h-1zM570 332h1v1h-1zM760 332h2v1h-2zM775 332h1v1h-1zM865 332h1v1h-1zM32 333h1v1h-1zM83 333h1v1h-1zM358 333h1v1h-1zM569 333h1v1h-1zM762 333h3v1h-3zM774 333h1v1h-1zM866 333h1v1h-1zM33 334h1v1h-1zM81 334h2v1h-2zM359 334h1v1h-1zM568 334h1v1h-1zM765 334h3v1h-3zM773 334h1v1h-1zM867 334h2v1h-2zM34 335h1v1h-1zM80 335h1v1h-1zM359 335h1v1h-1zM567 335h1v1h-1zM768 335h2v1h-2zM772 335h1v1h-1zM869 335h2v1h-2zM34 336h1v1h-1zM78 336h2v1h-2zM360 336h1v1h-1zM567 336h1v1h-1zM770 336h2v1h-2zM871 336h2v1h-2zM35 337h1v1h-1zM76 337h2v1h-2zM360 337h1v1h-1zM566 337h1v1h-1zM873 337h2v1h-2zM36 338h1v1h-1zM75 338h1v1h-1zM361 338h1v1h-1zM565 338h1v1h-1zM875 338h2v1h-2zM37 339h1v1h-1zM73 339h2v1h-2zM361 339h1v1h-1zM564 339h1v1h-1zM877 339h2v1h-2zM38 340h1v1h-1zM72 340h1v1h-1zM362 340h1v1h-1zM563 340h1v1h-1zM879 340h2v1h-2zM39 341h1v1h-1zM70 341h2v1h-2zM362 341h1v1h-1zM562 341h1v1h-1zM881 341h2v1h-2zM40 342h1v1h-1zM68 342h2v1h-2zM363 342h2v1h-2zM561 342h1v1h-1zM883 342h3v1h-3zM41 343h1v1h-1zM64 343h4v1h-4zM365 343h3v1h-3zM560 343h1v1h-1zM886 343h4v1h-4zM42 344h1v1h-1zM58 344h6v1h-6zM368 344h2v1h-2zM559 344h1v1h-1zM890 344h6v1h-6zM43 345h5v1h-5zM54 345h4v1h-4zM370 345h4v1h-4zM558 345h1v1h-1zM896 345h6v1h-6zM48 346h6v1h-6zM374 346h4v1h-4zM557 346h1v1h-1zM902 346h4v1h-4zM378 347h2v1h-2zM556 347h1v1h-1zM906 347h10v1h-10zM380 348h1v1h-1zM555 348h1v1h-1zM381 349h1v1h-1zM554 349h1v1h-1zM382 350h2v1h-2zM553 350h1v1h-1zM384 351h1v1h-1zM552 351h1v1h-1zM385 352h1v1h-1zM551 352h1v1h-1zM386 353h1v1h-1zM550 353h1v1h-1zM387 354h1v1h-1zM549 354h1v1h-1zM388 355h1v1h-1zM548 355h1v1h-1zM389 356h1v1h-1zM547 356h1v1h-1zM390 357h1v1h-1zM546 357h1v1h-1zM391 358h1v1h-1zM545 358h1v1h-1zM392 359h1v1h-1zM544 359h1v1h-1zM393 360h1v1h-1zM543 360h1v1h-1zM394 361h1v1h-1zM542 361h1v1h-1zM395 362h1v1h-1zM541 362h1v1h-1zM396 363h2v1h-2zM540 363h1v1h-1zM398 364h2v1h-2zM539 364h1v1h-1zM400 365h1v1h-1zM538 365h1v1h-1zM401 366h2v1h-2zM537 366h1v1h-1zM403 367h1v1h-1zM536 367h1v1h-1zM404 368h2v1h-2zM535 368h1v1h-1zM406 369h1v1h-1zM535 369h1v1h-1zM407 370h1v1h-1zM534 370h1v1h-1zM408 371h2v1h-2zM533 371h1v1h-1zM410 372h1v1h-1zM532 372h1v1h-1zM411 373h1v1h-1zM531 373h1v1h-1zM412 374h1v1h-1zM466 374h4v1h-4zM530 374h1v1h-1zM413 375h1v1h-1zM464 375h2v1h-2zM470 375h4v1h-4zM528 375h2v1h-2zM413 376h1v1h-1zM461 376h3v1h-3zM474 376h3v1h-3zM527 376h1v1h-1zM414 377h1v1h-1zM458 377h3v1h-3zM477 377h2v1h-2zM526 377h1v1h-1zM415 378h1v1h-1zM454 378h4v1h-4zM479 378h2v1h-2zM524 378h2v1h-2zM416 379h1v1h-1zM450 379h4v1h-4zM481 379h2v1h-2zM523 379h1v1h-1zM417 380h1v1h-1zM446 380h4v1h-4zM483 380h2v1h-2zM521 380h2v1h-2zM417 381h1v1h-1zM443 381h3v1h-3zM485 381h3v1h-3zM520 381h1v1h-1zM418 382h1v1h-1zM442 382h1v1h-1zM488 382h2v1h-2zM518 382h2v1h-2zM419 383h1v1h-1zM440 383h2v1h-2zM490 383h3v1h-3zM516 383h2v1h-2zM420 384h1v1h-1zM439 384h1v1h-1zM493 384h2v1h-2zM514 384h2v1h-2zM421 385h1v1h-1zM438 385h1v1h-1zM495 385h2v1h-2zM510 385h4v1h-4zM422 386h1v1h-1zM436 386h2v1h-2zM497 386h2v1h-2zM504 386h6v1h-6zM423 387h1v1h-1zM435 387h1v1h-1zM499 387h5v1h-5zM424 388h1v1h-1zM433 388h2v1h-2zM425 389h1v1h-1zM431 389h2v1h-2zM426 390h1v1h-1zM429 390h2v1h-2zM427 391h2v1h-2z"/>
<rect class="c" x="3" y="155" width="1" height="55" fill="#ff0000"/>
<rect class="c" x="1" y="200" width="5" height="8" fill="#ff0000"/>
<rect class="c" x="2" y="201" width="3" height="6" fill="#ff4500"/>
<rect class="c" x="11" y="198" width="1" height="15" fill="#32cd32"/>
<rect class="c" x="9" y="200" width="5" height="7" fill="#32cd32"/>
<rect class="c" x="19" y="188" width="1" height="25" fill="#ff0000"/>
<rect class="c" x="17" y="194" width="5" height="13" fill="#ff0000"/>
<rect class="c" x="18" y="195" width="3" height="11" fill="#ff4500"/>
<rect class="c" x="27" y="168" width="1" height="36" fill="#ff0000"/>
<rect class="c" x="25" y="179" width="5" height="15" fill="#ff0000"/>
<rect class="c" x="26" y="180" width="3" height="13" fill="#ff4500"/>
<rect class="c" x="35" y="124" width="1" height="66" fill="#ff0000"/>
<rect class="c" x="33" y="138" width="5" height="42" fill="#ff0000"/>
<rect class="c" x="34" y="139" width="3" height="40" fill="#ff4500"/>
<rect class="c" x="43" y="122" width="1" height="29" fill="#ff0000"/>
<rect class="c" x="41" y="131" width="5" height="7" fill="#ff0000"/>
<rect class="c" x="42" y="132" width="3" height="5" fill="#ff4500"/>
<rect class="c" x="51" y="126" width="1" height="49" fill="#32cd32"/>
<rect class="c" x="49" y="130" width="5" height="34" fill="#32cd32"/>
<rect class="c" x="59" y="161" width="1" height="25" fill="#32cd32"/>
<rect class="c" x="57" y="162" width="5" height="18" fill="#32cd32"/>
<rect class="c" x="67" y="171" width="1" height="38" fill="#32cd32"/>
<rect class="c" x="65" y="188" width="5" height="10" fill="#32cd32"/>
<rect class="c" x="75" y="185" width="1" height="42" fill="#ff0000"/>
<rect class="c" x="73" y="193" width="5" height="5" fill="#ff0000"/>
<rect class="c" x="74" y="194" width="3" height="3" fill="#ff4500"/>
<rect class="c" x="83" y="170" width="1" height="39" fill="#ff0000"/>
<rect class="c" x="81" y="186" width="5" height="8" fill="#ff0000"/>
<rect class="c" x="82" y="187" width="3" height="6" fill="#ff4500"/>
<rect class="c" x="91" y="125" width="1" height="67" fill="#ff0000"/>
<rect class="c" x="89" y="155" width="5" height="32" fill="#ff0000"/>
<rect class="c" x="90" y="156" width="3" height="30" fill="#ff4500"/>
<rect class="c" x="99" y="109" width="1" height="53" fill="#ff0000"/>
<rect class="c" x="97" y="114" width="5" height="42" fill="#ff0000"/>
<rect class="c" x="98" y="115" width="3" height="40" fill="#ff4500"/>
<rect class="c" x="107" y="98" width="1" height="21" fill="#ff0000"/>
<rect class="c" x="105" y="101" width="5" height="14" fill="#ff0000"/>
<rect class="c" x="106" y="102" width="3" height="12" fill="#ff4500"/>
<rect class="c" x="115" y="104" width="1" height="31" fill="#32cd32"/>
<rect class="c" x="113" y="114" width="5" height="10" fill="#32cd32"/>
<rect class="c" x="123" y="121" width="1" height="55" fill="#32cd32"/>
<rect class="c" x="121" y="123" width="5" height="32" fill="#32cd32"/>
<rect class="c" x="131" y="141" width="1" height="57" fill="#ff0000"/>
<rect class="c" x="129" y="152" width="5" height="3" fill="#ff0000"/>
<rect class="c" x="130" y="153" width="3" height="1" fill="#ff4500"/>
<rect class="c" x="139" y="141" width="1" height="33" fill="#32cd32"/>
<rect class="c" x="137" y="153" width="5" height="11" fill="#32cd32"/>
<rect class="c" x="147" y="155" width="1" height="31" fill="#32cd32"/>
<rect class="c" x="145" y="163" width="5" height="16" fill="#32cd32"/>
<rect class="c" x="155" y="173" width="1" height="11" fill="#32cd32"/>
<rect class="c" x="153" y="178" width="5" height="2" fill="#32cd32"/>
<rect class="c" x="163" y="142" width="1" height="39" fill="#ff0000"/>
<rect class="c" x="161" y="173" width="5" height="1" fill="#ff0000"/>
<rect class="c" x="171" y="147" width="1" height="43" fill="#32cd32"/>
<rect class="c" x="169" y="174" width="5" height="10" fill="#32cd32"/>
<rect class="c" x="179" y="163" width="1" height="38" fill="#ff0000"/>
<rect class="c" x="177" y="182" width="5" height="2" fill="#ff0000"/>
<rect class="c" x="187" y="90" width="1" height="94" fill="#ff0000"/>
<rect class="c" x="185" y="114" width="5" height="69" fill="#ff0000"/>
<rect class="c" x="186" y="115" width="3" height="67" fill="#ff4500"/>
<rect class="c" x="195" y="102" width="1" height="34" fill="#32cd32"/>
<rect class="c" x="193" y="114" width="5" height="8" fill="#32cd32"/>
<rect class="c" x="203" y="112" width="1" height="18" fill="#32cd32"/>
<rect class="c" x="201" y="121" width="5" height="1" fill="#32cd32"/>
<rect class="c" x="211" y="53" width="1" height="34" fill="#32cd32"/>
<rect class="c" x="209" y="77" width="5" height="4" fill="#32cd32"/>
<rect class="c" x="219" y="53" width="1" height="36" fill="#32cd32"/>
<rect class="c" x="217" y="80" width="5" height="4" fill="#32cd32"/>
<rect class="c" x="227" y="77" width="1" height="78" fill="#32cd32"/>
<rect class="c" x="225" y="83" width="5" height="66" fill="#32cd32"/>
<rect class="c" x="235" y="142" width="1" height="64" fill="#32cd32"/>
<rect class="c" x="233" y="147" width="5" height="44" fill="#32cd32"/>
<rect class="c" x="243" y="168" width="1" height="29" fill="#ff0000"/>
<rect class="c" x="241" y="186" width="5" height="5" fill="#ff0000"/>
<rect class="c" x="242" y="187" width="3" height="3" fill="#ff4500"/>
<rect class="c" x="251" y="183" width="1" height="18" fill="#32cd32"/>
<rect class="c" x="249" y="186" width="5" height="7" fill="#32cd32"/>
<rect class="c" x="259" y="179" width="1" height="37" fill="#32cd32"/>
<rect class="c" x="257" y="209" width="5" height="3" fill="#32cd32"/>
<rect class="c" x="267" y="180" width="1" height="36" fill="#ff0000"/>
<rect class="c" x="265" y="198" width="5" height="14" fill="#ff0000"/>
<rect class="c" x="266" y="199" width="3" height="12" fill="#ff4500"/>
<rect class="c" x="275" y="176" width="1" height="31" fill="#ff0000"/>
<rect class="c" x="273" y="179" width="5" height="20" fill="#ff0000"/>
<rect class="c" x="274" y="180" width="3" height="18" fill="#ff4500"/>
<rect class="c" x="283" y="164" width="1" height="29" fill="#32cd32"/>
<rect class="c" x="281" y="179" width="5" height="1" fill="#32cd32"/>
<rect class="c" x="291" y="173" width="1" height="64" fill="#32cd32"/>
<rect class="c" x="289" y="179" width="5" height="43" fill="#32cd32"/>
<rect class="c" x="299" y="213" width="1" height="9" fill="#ff0000"/>
<rect class="c" x="297" y="215" width="5" height="7" fill="#ff0000"/>
<rect class="c" x="298" y="216" width="3" height="5" fill="#ff4500"/>
<rect class="c" x="307" y="210" width="1" height="14" fill="#ff0000"/>
<rect class="c" x="305" y="214" width="5" height="6" fill="#ff0000"/>
<rect class="c" x="306" y="215" width="3" height="4" fill="#ff4500"/>
<rect class="c" x="315" y="196" width="1" height="26" fill="#32cd32"/>
<rect class="c" x="313" y="213" width="5" height="8" fill="#32cd32"/>
<rect class="c" x="323" y="199" width="1" height="27" fill="#ff0000"/>
<rect class="c" x="321" y="217" width="5" height="4" fill="#ff0000"/>
<rect class="c" x="322" y="218" width="3" height="2" fill="#ff4500"/>
<rect class="c" x="331" y="212" width="1" height="74" fill="#32cd32"/>
<rect class="c" x="329" y="217" width="5" height="51" fill="#32cd32"/>
<rect class="c" x="339" y="256" width="1" height="40" fill="#32cd32"/>
<rect class="c" x="337" y="266" width="5" height="25" fill="#32cd32"/>
<rect class="c" x="347" y="286" width="1" height="33" fill="#32cd32"/>
<rect class="c" x="345" y="289" width="5" height="27" fill="#32cd32"/>
<rect class="c" x="355" y="298" width="1" height="25" fill="#ff0000"/>
<rect class="c" x="353" y="314" width="5" height="9" fill="#ff0000"/>
<rect class="c" x="354" y="315" width="3" height="7" fill="#ff4500"/>
<rect class="c" x="363" y="305" width="1" height="18" fill="#32cd32"/>
<rect class="c" x="361" y="313" width="5" height="9" fill="#32cd32"/>
<rect class="c" x="371" y="300" width="1" height="26" fill="#ff0000"/>
<rect class="c" x="369" y="310" width="5" height="12" fill="#ff0000"/>
<rect class="c" x="370" y="311" width="3" height="10" fill="#ff4500"/>
<rect class="c" x="379" y="291" width="1" height="47" fill="#32cd32"/>
<rect class="c" x="377" y="310" width="5" height="22" fill="#32cd32"/>
<rect class="c" x="387" y="298" width="1" height="40" fill="#ff0000"/>
<rect class="c" x="385" y="322" width="5" height="10" fill="#ff0000"/>
<rect class="c" x="386" y="323" width="3" height="8" fill="#ff4500"/>
<rect class="c" x="395" y="314" width="1" height="10" fill="#ff0000"/>
<rect class="c" x="393" y="315" width="5" height="7" fill="#ff0000"/>
<rect class="c" x="394" y="316" width="3" height="5" fill="#ff4500"/>
<rect class="c" x="403" y="296" width="1" height="26" fill="#32cd32"/>
<rect class="c" x="401" y="318" width="5" height="3" fill="#32cd32"/>
<rect class="c" x="411" y="308" width="1" height="18" fill="#32cd32"/>
<rect class="c" x="409" y="320" width="5" height="3" fill="#32cd32"/>
<rect class="c" x="419" y="312" width="1" height="53" fill="#32cd32"/>
<rect class="c" x="417" y="318" width="5" height="34" fill="#32cd32"/>
<rect class="c" x="427" y="342" width="1" height="136" fill="#32cd32"/>
<rect class="c" x="425" y="351" width="5" height="3" fill="#32cd32"/>
<rect class="c" x="435" y="271" width="1" height="88" fill="#ff0000"/>
<rect class="c" x="433" y="271" width="5" height="83" fill="#ff0000"/>
<rect class="c" x="434" y="272" width="3" height="81" fill="#ff4500"/>
<rect class="c" x="443" y="256" width="1" height="24" fill="#ff0000"/>
<rect class="c" x="441" y="262" width="5" height="10" fill="#ff0000"/>
<rect class="c" x="442" y="263" width="3" height="8" fill="#ff4500"/>
<rect class="c" x="451" y="243" width="1" height="21" fill="#ff0000"/>
<rect class="c" x="449" y="246" width="5" height="17" fill="#ff0000"/>
<rect class="c" x="450" y="247" width="3" height="15" fill="#ff4500"/>
<rect class="c" x="459" y="237" width="1" height="26" fill="#32cd32"/>
<rect class="c" x="457" y="247" width="5" height="7" fill="#32cd32"/>
<rect class="c" x="467" y="204" width="1" height="52" fill="#ff0000"/>
<rect class="c" x="465" y="225" width="5" height="29" fill="#ff0000"/>
<rect class="c" x="466" y="226" width="3" height="27" fill="#ff4500"/>
<rect class="c" x="475" y="201" width="1" height="40" fill="#ff0000"/>
<rect class="c" x="473" y="206" width="5" height="20" fill="#ff0000"/>
<rect class="c" x="474" y="207" width="3" height="18" fill="#ff4500"/>
<rect class="c" x="483" y="172" width="1" height="49" fill="#ff0000"/>
<rect class="c" x="481" y="199" width="5" height="7" fill="#ff0000"/>
<rect class="c" x="482" y="200" width="3" height="5" fill="#ff4500"/>
<rect class="c" x="491" y="191" width="1" height="12" fill="#ff0000"/>
<rect class="c" x="489" y="194" width="5" height="6" fill="#ff0000"/>
<rect class="c" x="490" y="195" width="3" height="4" fill="#ff4500"/>
<rect class="c" x="499" y="186" width="1" height="32" fill="#32cd32"/>
<rect class="c" x="497" y="192" width="5" height="4" fill="#32cd32"/>
<rect class="c" x="507" y="180" width="1" height="30" fill="#32cd32"/>
<rect class="c" x="505" y="195" width="5" height="3" fill="#32cd32"/>
<rect class="c" x="515" y="190" width="1" height="39" fill="#32cd32"/>
<rect class="c" x="513" y="196" width="5" height="19" fill="#32cd32"/>
<rect class="c" x="523" y="208" width="1" height="32" fill="#32cd32"/>
<rect class="c" x="521" y="214" width="5" height="18" fill="#32cd32"/>
<rect class="c" x="531" y="183" width="1" height="48" fill="#ff0000"/>
<rect class="c" x="529" y="211" width="5" height="20" fill="#ff0000"/>
<rect class="c" x="530" y="212" width="3" height="18" fill="#ff4500"/>
<rect class="c" x="539" y="209" width="1" height="16" fill="#32cd32"/>
<rect class="c" x="537" y="211" width="5" height="13" fill="#32cd32"/>
<rect class="c" x="547" y="214" width="1" height="31" fill="#32cd32"/>
<rect class="c" x="545" y="228" width="5" height="7" fill="#32cd32"/>
<rect class="c" x="555" y="229" width="1" height="31" fill="#32cd32"/>
<rect class="c" x="553" y="234" width="5" height="14" fill="#32cd32"/>
<rect class="c" x="563" y="242" width="1" height="21" fill="#32cd32"/>
<rect class="c" x="561" y="247" width="5" height="4" fill="#32cd32"/>
<rect class="c" x="571" y="224" width="1" height="63" fill="#32cd32"/>
<rect class="c" x="569" y="250" width="5" height="23" fill="#32cd32"/>
<rect class="c" x="579" y="217" width="1" height="77" fill="#ff0000"/>
<rect class="c" x="577" y="225" width="5" height="48" fill="#ff0000"/>
<rect class="c" x="578" y="226" width="3" height="46" fill="#ff4500"/>
<rect class="c" x="587" y="211" width="1" height="15" fill="#ff0000"/>
<rect class="c" x="585" y="215" width="5" height="11" fill="#ff0000"/>
<rect class="c" x="586" y="216" width="3" height="9" fill="#ff4500"/>
<rect class="c" x="595" y="196" width="1" height="32" fill="#32cd32"/>
<rect class="c" x="593" y="214" width="5" height="11" fill="#32cd32"/>
<rect class="c" x="603" y="217" width="1" height="30" fill="#32cd32"/>
<rect class="c" x="601" y="224" width="5" height="14" fill="#32cd32"/>
<rect class="c" x="611" y="196" width="1" height="44" fill="#ff0000"/>
<rect class="c" x="609" y="205" width="5" height="33" fill="#ff0000"/>
<rect class="c" x="610" y="206" width="3" height="31" fill="#ff4500"/>
<rect class="c" x="619" y="127" width="1" height="81" fill="#ff0000"/>
<rect class="c" x="617" y="131" width="5" height="75" fill="#ff0000"/>
<rect class="c" x="618" y="132" width="3" height="73" fill="#ff4500"/>
<rect class="c" x="627" y="129" width="1" height="43" fill="#32cd32"/>
<rect class="c" x="625" y="131" width="5" height="25" fill="#32cd32"/>
<rect class="c" x="635" y="149" width="1" height="14" fill="#32cd32"/>
<rect class="c" x="633" y="155" width="5" height="8" fill="#32cd32"/>
<rect class="c" x="643" y="158" width="1" height="33" fill="#32cd32"/>
<rect class="c" x="641" y="162" width="5" height="23" fill="#32cd32"/>
<rect class="c" x="651" y="150" width="1" height="55" fill="#ff0000"/>
<rect class="c" x="649" y="173" width="5" height="13" fill="#ff0000"/>
<rect class="c" x="650" y="174" width="3" height="11" fill="#ff4500"/>
<rect class="c" x="659" y="165" width="1" height="93" fill="#32cd32"/>
<rect class="c" x="657" y="173" width="5" height="78" fill="#32cd32"/>
<rect class="c" x="667" y="248" width="1" height="33" fill="#32cd32"/>
<rect class="c" x="665" y="249" width="5" height="21" fill="#32cd32"/>
<rect class="c" x="675" y="266" width="1" height="39" fill="#32cd32"/>
<rect class="c" x="673" y="268" width="5" height="15" fill="#32cd32"/>
<rect class="c" x="683" y="277" width="1" height="10" fill="#32cd32"/>
<rect class="c" x="681" y="281" width="5" height="6" fill="#32cd32"/>
<rect class="c" x="691" y="269" width="1" height="37" fill="#32cd32"/>
<rect class="c" x="689" y="282" width="5" height="19" fill="#32cd32"/>
<rect class="c" x="699" y="276" width="1" height="34" fill="#ff0000"/>
<rect class="c" x="697" y="283" width="5" height="18" fill="#ff0000"/>
<rect class="c" x="698" y="284" width="3" height="16" fill="#ff4500"/>
<rect class="c" x="707" y="247" width="1" height="38" fill="#ff0000"/>
<rect class="c" x="705" y="265" width="5" height="18" fill="#ff0000"/>
<rect class="c" x="706" y="266" width="3" height="16" fill="#ff4500"/>
<rect class="c" x="715" y="251" width="1" height="46" fill="#32cd32"/>
<rect class="c" x="713" y="265" width="5" height="14" fill="#32cd32"/>
<rect class="c" x="723" y="256" width="1" height="35" fill="#ff0000"/>
<rect class="c" x="721" y="260" width="5" height="19" fill="#ff0000"/>
<rect class="c" x="722" y="261" width="3" height="17" fill="#ff4500"/>
<rect class="c" x="731" y="238" width="1" height="25" fill="#ff0000"/>
<rect class="c" x="729" y="244" width="5" height="17" fill="#ff0000"/>
<rect class="c" x="730" y="245" width="3" height="15" fill="#ff4500"/>
<rect class="c" x="739" y="229" width="1" height="21" fill="#32cd32"/>
<rect class="c" x="737" y="246" width="5" height="2" fill="#32cd32"/>
<rect class="c" x="747" y="241" width="1" height="32" fill="#ff0000"/>
<rect class="c" x="745" y="243" width="5" height="5" fill="#ff0000"/>
<rect class="c" x="746" y="244" width="3" height="3" fill="#ff4500"/>
<rect class="c" x="755" y="217" width="1" height="29" fill="#ff0000"/>
<rect class="c" x="753" y="225" width="5" height="19" fill="#ff0000"/>
<rect class="c" x="754" y="226" width="3" height="17" fill="#ff4500"/>
<rect class="c" x="763" y="194" width="1" height="93" fill="#32cd32"/>
<rect class="c" x="761" y="225" width="5" height="57" fill="#32cd32"/>
<rect class="c" x="771" y="244" width="1" height="54" fill="#ff0000"/>
<rect class="c" x="769" y="248" width="5" height="35" fill="#ff0000"/>
<rect class="c" x="770" y="249" width="3" height="33" fill="#ff4500"/>
<rect class="c" x="779" y="237" width="1" height="17" fill="#32cd32"/>
<rect class="c" x="777" y="248" width="5" height="2" fill="#32cd32"/>
<rect class="c" x="787" y="211" width="1" height="38" fill="#ff0000"/>
<rect class="c" x="785" y="220" width="5" height="21" fill="#ff0000"/>
<rect class="c" x="786" y="221" width="3" height="19" fill="#ff4500"/>
<rect class="c" x="795" y="213" width="1" height="31" fill="#ff0000"/>
<rect class="c" x="793" y="218" width="5" height="3" fill="#ff0000"/>
<rect class="c" x="794" y="219" width="3" height="1" fill="#ff4500"/>
<rect class="c" x="803" y="200" width="1" height="54" fill="#32cd32"/>
<rect class="c" x="801" y="218" width="5" height="26" fill="#32cd32"/>
<rect class="c" x="811" y="225" width="1" height="50" fill="#32cd32"/>
<rect class="c" x="809" y="243" width="5" height="21" fill="#32cd32"/>
<rect class="c" x="819" y="258" width="1" height="29" fill="#32cd32"/>
<rect class="c" x="817" y="263" width="5" height="18" fill="#32cd32"/>
<rect class="c" x="827" y="278" width="1" height="20" fill="#32cd32"/>
<rect class="c" x="825" y="279" width="5" height="17" fill="#32cd32"/>
<rect class="c" x="835" y="269" width="1" height="25" fill="#32cd32"/>
<rect class="c" x="833" y="276" width="5" height="11" fill="#32cd32"/>
<rect class="c" x="843" y="277" width="1" height="30" fill="#32cd32"/>
<rect class="c" x="841" y="286" width="5" height="12" fill="#32cd32"/>
<rect class="c" x="851" y="282" width="1" height="52" fill="#32cd32"/>
<rect class="c" x="849" y="296" width="5" height="35" fill="#32cd32"/>
<rect class="c" x="859" y="311" width="1" height="24" fill="#ff0000"/>
<rect class="c" x="857" y="326" width="5" height="5" fill="#ff0000"/>
<rect class="c" x="858" y="327" width="3" height="3" fill="#ff4500"/>
<rect class="c" x="867" y="312" width="1" height="37" fill="#ff0000"/>
<rect class="c" x="865" y="320" width="5" height="7" fill="#ff0000"/>
<rect class="c" x="866" y="321" width="3" height="5" fill="#ff4500"/>
<rect class="c" x="875" y="311" width="1" height="11" fill="#ff0000"/>
<rect class="c" x="873" y="314" width="5" height="6" fill="#ff0000"/>
<rect class="c" x="874" y="315" width="3" height="4" fill="#ff4500"/>
<rect class="c" x="883" y="300" width="1" height="31" fill="#ff0000"/>
<rect class="c" x="881" y="308" width="5" height="14" fill="#ff0000"/>
<rect class="c" x="882" y="309" width="3" height="12" fill="#ff4500"/>
<rect class="c" x="891" y="282" width="1" height="30" fill="#ff0000"/>
<rect class="c" x="889" y="288" width="5" height="20" fill="#ff0000"/>
<rect class="c" x="890" y="289" width="3" height="18" fill="#ff4500"/>
<rect class="c" x="899" y="282" width="1" height="32" fill="#ff0000"/>
<rect class="c" x="897" y="285" width="5" height="4" fill="#ff0000"/>
<rect class="c" x="898" y="286" width="3" height="2" fill="#ff4500"/>
<rect class="c" x="907" y="276" width="1" height="44" fill="#32cd32"/>
<rect class="c" x="905" y="285" width="5" height="20" fill="#32cd32"/>
<rect class="c" x="915" y="296" width="1" height="14" fill="#ff0000"/>
<rect class="c" x="913" y="301" width="5" height="4" fill="#ff0000"/>
<rect class="c" x="914" y="302" width="3" height="2" fill="#ff4500"/>
</g>
<rect class="c" x="620" y="201" width="425" height="2" fill="#fa2020"/>
<rect class="c" x="760" y="280" width="280" height="2" fill="#8cc800"/>
<rect class="c" x="417" y="355" width="643" height="2" fill="#2088e0"/>
<defs><clipPath id="cr"><rect x="3" y="491" width="1162" height="105"/></clipPath></defs>
<text x="7.2" y="503.4" font-size="9.6" fill="#000" stroke="#000" stroke-width="0.12" textLength="67.8" lengthAdjust="spacingAndGlyphs">RSI(14) 44.3055</text>
<line class="c" x1="3" y1="523.5" x2="1165" y2="523.5" stroke="#c0c0c0" stroke-width="1" stroke-dasharray="3,3"/>
<line class="c" x1="3" y1="564.5" x2="1165" y2="564.5" stroke="#c0c0c0" stroke-width="1" stroke-dasharray="3,3"/>
<path class="c" clip-path="url(#cr)" fill="#1e90ff" d="M40 521h4v1h-4zM35 522h5v1h-5zM44 522h1v1h-1zM34 523h1v1h-1zM45 523h1v1h-1zM106 523h2v1h-2zM33 524h1v1h-1zM46 524h1v1h-1zM102 524h4v1h-4zM108 524h2v1h-2zM32 525h1v1h-1zM47 525h1v1h-1zM99 525h3v1h-3zM110 525h1v1h-1zM211 525h5v1h-5zM619 525h1v1h-1zM30 526h2v1h-2zM47 526h1v1h-1zM98 526h1v1h-1zM111 526h1v1h-1zM210 526h1v1h-1zM216 526h4v1h-4zM618 526h1v1h-1zM620 526h2v1h-2zM29 527h1v1h-1zM48 527h1v1h-1zM96 527h2v1h-2zM112 527h2v1h-2zM209 527h1v1h-1zM219 527h1v1h-1zM618 527h1v1h-1zM622 527h1v1h-1zM28 528h1v1h-1zM49 528h1v1h-1zM95 528h1v1h-1zM114 528h1v1h-1zM208 528h1v1h-1zM220 528h1v1h-1zM617 528h1v1h-1zM623 528h1v1h-1zM26 529h2v1h-2zM50 529h1v1h-1zM94 529h1v1h-1zM115 529h1v1h-1zM206 529h2v1h-2zM220 529h1v1h-1zM616 529h1v1h-1zM624 529h2v1h-2zM22 530h4v1h-4zM51 530h1v1h-1zM92 530h2v1h-2zM116 530h1v1h-1zM187 530h3v1h-3zM205 530h1v1h-1zM221 530h1v1h-1zM482 530h26v1h-26zM616 530h1v1h-1zM626 530h1v1h-1zM3 531h3v1h-3zM18 531h4v1h-4zM52 531h2v1h-2zM91 531h1v1h-1zM117 531h1v1h-1zM186 531h1v1h-1zM190 531h4v1h-4zM204 531h1v1h-1zM221 531h1v1h-1zM478 531h4v1h-4zM508 531h2v1h-2zM615 531h1v1h-1zM627 531h5v1h-5zM6 532h4v1h-4zM14 532h4v1h-4zM54 532h2v1h-2zM90 532h1v1h-1zM118 532h1v1h-1zM186 532h1v1h-1zM194 532h10v1h-10zM222 532h1v1h-1zM474 532h4v1h-4zM510 532h1v1h-1zM614 532h1v1h-1zM632 532h4v1h-4zM10 533h4v1h-4zM56 533h1v1h-1zM88 533h2v1h-2zM119 533h1v1h-1zM185 533h1v1h-1zM222 533h1v1h-1zM472 533h2v1h-2zM511 533h1v1h-1zM614 533h1v1h-1zM636 533h2v1h-2zM57 534h2v1h-2zM87 534h1v1h-1zM120 534h1v1h-1zM185 534h1v1h-1zM223 534h1v1h-1zM469 534h3v1h-3zM512 534h2v1h-2zM613 534h1v1h-1zM638 534h2v1h-2zM59 535h2v1h-2zM86 535h1v1h-1zM121 535h1v1h-1zM184 535h1v1h-1zM223 535h1v1h-1zM467 535h2v1h-2zM514 535h1v1h-1zM612 535h1v1h-1zM640 535h1v1h-1zM650 535h2v1h-2zM61 536h2v1h-2zM84 536h2v1h-2zM122 536h1v1h-1zM128 536h5v1h-5zM184 536h1v1h-1zM224 536h1v1h-1zM465 536h2v1h-2zM515 536h2v1h-2zM531 536h2v1h-2zM612 536h1v1h-1zM641 536h2v1h-2zM646 536h4v1h-4zM652 536h1v1h-1zM63 537h2v1h-2zM80 537h4v1h-4zM123 537h5v1h-5zM133 537h3v1h-3zM183 537h1v1h-1zM224 537h1v1h-1zM464 537h1v1h-1zM517 537h2v1h-2zM529 537h2v1h-2zM533 537h2v1h-2zM611 537h1v1h-1zM643 537h3v1h-3zM652 537h1v1h-1zM65 538h2v1h-2zM72 538h8v1h-8zM136 538h2v1h-2zM182 538h1v1h-1zM225 538h1v1h-1zM462 538h2v1h-2zM519 538h2v1h-2zM527 538h2v1h-2zM535 538h2v1h-2zM586 538h6v1h-6zM610 538h1v1h-1zM653 538h1v1h-1zM67 539h5v1h-5zM138 539h3v1h-3zM182 539h1v1h-1zM225 539h1v1h-1zM450 539h6v1h-6zM460 539h2v1h-2zM521 539h2v1h-2zM525 539h2v1h-2zM537 539h2v1h-2zM582 539h4v1h-4zM592 539h5v1h-5zM608 539h2v1h-2zM653 539h1v1h-1zM787 539h9v1h-9zM141 540h3v1h-3zM181 540h1v1h-1zM226 540h1v1h-1zM448 540h2v1h-2zM456 540h4v1h-4zM523 540h2v1h-2zM539 540h2v1h-2zM579 540h3v1h-3zM597 540h2v1h-2zM607 540h1v1h-1zM654 540h1v1h-1zM755 540h1v1h-1zM785 540h2v1h-2zM796 540h2v1h-2zM144 541h2v1h-2zM162 541h3v1h-3zM181 541h1v1h-1zM226 541h1v1h-1zM445 541h3v1h-3zM541 541h3v1h-3zM578 541h1v1h-1zM599 541h2v1h-2zM606 541h1v1h-1zM654 541h1v1h-1zM753 541h2v1h-2zM756 541h1v1h-1zM784 541h1v1h-1zM798 541h2v1h-2zM146 542h6v1h-6zM158 542h4v1h-4zM165 542h3v1h-3zM180 542h1v1h-1zM227 542h1v1h-1zM442 542h3v1h-3zM544 542h2v1h-2zM578 542h1v1h-1zM601 542h2v1h-2zM604 542h2v1h-2zM655 542h1v1h-1zM751 542h2v1h-2zM756 542h1v1h-1zM782 542h2v1h-2zM800 542h1v1h-1zM152 543h6v1h-6zM168 543h2v1h-2zM180 543h1v1h-1zM228 543h1v1h-1zM438 543h4v1h-4zM546 543h3v1h-3zM577 543h1v1h-1zM603 543h1v1h-1zM656 543h1v1h-1zM749 543h2v1h-2zM757 543h1v1h-1zM780 543h2v1h-2zM801 543h2v1h-2zM170 544h10v1h-10zM229 544h1v1h-1zM435 544h3v1h-3zM549 544h3v1h-3zM576 544h1v1h-1zM656 544h1v1h-1zM730 544h19v1h-19zM758 544h1v1h-1zM771 544h9v1h-9zM803 544h2v1h-2zM230 545h2v1h-2zM275 545h5v1h-5zM435 545h1v1h-1zM552 545h2v1h-2zM576 545h1v1h-1zM657 545h1v1h-1zM728 545h2v1h-2zM759 545h1v1h-1zM770 545h1v1h-1zM805 545h2v1h-2zM232 546h1v1h-1zM273 546h2v1h-2zM280 546h4v1h-4zM434 546h1v1h-1zM554 546h6v1h-6zM575 546h1v1h-1zM657 546h1v1h-1zM725 546h3v1h-3zM759 546h1v1h-1zM769 546h1v1h-1zM807 546h2v1h-2zM896 546h5v1h-5zM233 547h1v1h-1zM272 547h1v1h-1zM284 547h1v1h-1zM434 547h1v1h-1zM560 547h4v1h-4zM574 547h1v1h-1zM658 547h1v1h-1zM723 547h2v1h-2zM760 547h1v1h-1zM768 547h1v1h-1zM809 547h2v1h-2zM891 547h5v1h-5zM901 547h2v1h-2zM234 548h1v1h-1zM240 548h8v1h-8zM270 548h2v1h-2zM285 548h1v1h-1zM434 548h1v1h-1zM564 548h2v1h-2zM574 548h1v1h-1zM658 548h1v1h-1zM721 548h2v1h-2zM761 548h1v1h-1zM766 548h2v1h-2zM811 548h3v1h-3zM889 548h2v1h-2zM903 548h2v1h-2zM235 549h5v1h-5zM248 549h5v1h-5zM268 549h2v1h-2zM286 549h2v1h-2zM433 549h1v1h-1zM566 549h2v1h-2zM573 549h1v1h-1zM659 549h2v1h-2zM706 549h4v1h-4zM719 549h2v1h-2zM762 549h1v1h-1zM765 549h1v1h-1zM814 549h4v1h-4zM888 549h1v1h-1zM905 549h2v1h-2zM912 549h4v1h-4zM253 550h2v1h-2zM266 550h2v1h-2zM288 550h1v1h-1zM433 550h1v1h-1zM568 550h1v1h-1zM572 550h1v1h-1zM661 550h3v1h-3zM704 550h2v1h-2zM710 550h4v1h-4zM717 550h2v1h-2zM762 550h1v1h-1zM764 550h1v1h-1zM818 550h3v1h-3zM886 550h2v1h-2zM907 550h5v1h-5zM255 551h2v1h-2zM264 551h2v1h-2zM289 551h1v1h-1zM304 551h6v1h-6zM433 551h1v1h-1zM569 551h2v1h-2zM572 551h1v1h-1zM664 551h2v1h-2zM701 551h3v1h-3zM714 551h3v1h-3zM763 551h1v1h-1zM821 551h3v1h-3zM834 551h4v1h-4zM884 551h2v1h-2zM257 552h2v1h-2zM261 552h3v1h-3zM290 552h1v1h-1zM296 552h8v1h-8zM310 552h4v1h-4zM320 552h4v1h-4zM432 552h1v1h-1zM571 552h1v1h-1zM666 552h4v1h-4zM699 552h2v1h-2zM824 552h2v1h-2zM830 552h4v1h-4zM838 552h4v1h-4zM882 552h2v1h-2zM259 553h2v1h-2zM291 553h5v1h-5zM314 553h6v1h-6zM324 553h1v1h-1zM432 553h1v1h-1zM670 553h4v1h-4zM697 553h2v1h-2zM826 553h4v1h-4zM842 553h2v1h-2zM878 553h4v1h-4zM325 554h1v1h-1zM432 554h1v1h-1zM674 554h12v1h-12zM695 554h2v1h-2zM844 554h2v1h-2zM872 554h6v1h-6zM326 555h2v1h-2zM431 555h1v1h-1zM686 555h4v1h-4zM693 555h2v1h-2zM846 555h2v1h-2zM866 555h6v1h-6zM328 556h1v1h-1zM431 556h1v1h-1zM690 556h3v1h-3zM848 556h1v1h-1zM862 556h4v1h-4zM329 557h1v1h-1zM430 557h1v1h-1zM849 557h2v1h-2zM856 557h6v1h-6zM330 558h1v1h-1zM430 558h1v1h-1zM851 558h5v1h-5zM331 559h1v1h-1zM430 559h1v1h-1zM332 560h2v1h-2zM429 560h1v1h-1zM334 561h2v1h-2zM394 561h6v1h-6zM429 561h1v1h-1zM336 562h1v1h-1zM390 562h4v1h-4zM400 562h12v1h-12zM429 562h1v1h-1zM337 563h2v1h-2zM371 563h2v1h-2zM386 563h4v1h-4zM412 563h2v1h-2zM428 563h1v1h-1zM339 564h2v1h-2zM369 564h2v1h-2zM373 564h3v1h-3zM384 564h2v1h-2zM414 564h2v1h-2zM428 564h1v1h-1zM341 565h3v1h-3zM367 565h2v1h-2zM376 565h2v1h-2zM381 565h3v1h-3zM416 565h1v1h-1zM428 565h1v1h-1zM344 566h2v1h-2zM352 566h8v1h-8zM365 566h2v1h-2zM378 566h3v1h-3zM417 566h2v1h-2zM427 566h1v1h-1zM346 567h6v1h-6zM360 567h5v1h-5zM419 567h9v1h-9z"/>
<rect class="c" x="1166" y="492" width="1" height="1" fill="#000"/>
<text x="1169.5" y="500.8" font-size="9.2" fill="#000" stroke="#000" stroke-width="0.12" textLength="14.4" lengthAdjust="spacingAndGlyphs">100</text>
<text x="1168.6" y="526.8" font-size="9.2" fill="#000" stroke="#000" stroke-width="0.12" textLength="9.4" lengthAdjust="spacingAndGlyphs">70</text>
<text x="1168.6" y="568" font-size="9.2" fill="#000" stroke="#000" stroke-width="0.12" textLength="9.4" lengthAdjust="spacingAndGlyphs">30</text>
<text x="1169.3" y="592.9" font-size="9.2" fill="#000" stroke="#000" stroke-width="0.12">0</text>
<rect class="c" x="3" y="597" width="1" height="3" fill="#000"/>
<text x="2.7" y="608.6" font-size="9.3" fill="#000" stroke="#000" stroke-width="0.12" textLength="48.1" lengthAdjust="spacingAndGlyphs">2 Nov 2018</text>
<rect class="c" x="67" y="597" width="1" height="3" fill="#000"/>
<text x="66.7" y="608.6" font-size="9.3" fill="#000" stroke="#000" stroke-width="0.12" textLength="52.7" lengthAdjust="spacingAndGlyphs">12 Nov 2018</text>
<rect class="c" x="131" y="597" width="1" height="3" fill="#000"/>
<text x="130.7" y="608.6" font-size="9.3" fill="#000" stroke="#000" stroke-width="0.12" textLength="52.7" lengthAdjust="spacingAndGlyphs">21 Nov 2018</text>
<rect class="c" x="195" y="597" width="1" height="3" fill="#000"/>
<text x="194.7" y="608.6" font-size="9.3" fill="#000" stroke="#000" stroke-width="0.12" textLength="52.7" lengthAdjust="spacingAndGlyphs">30 Nov 2018</text>
<rect class="c" x="259" y="597" width="1" height="3" fill="#000"/>
<text x="258.7" y="608.6" font-size="9.3" fill="#000" stroke="#000" stroke-width="0.12" textLength="50.8" lengthAdjust="spacingAndGlyphs">10 Dec 2018</text>
<rect class="c" x="323" y="597" width="1" height="3" fill="#000"/>
<text x="322.7" y="608.6" font-size="9.3" fill="#000" stroke="#000" stroke-width="0.12" textLength="50.8" lengthAdjust="spacingAndGlyphs">19 Dec 2018</text>
<rect class="c" x="387" y="597" width="1" height="3" fill="#000"/>
<text x="386.7" y="608.6" font-size="9.3" fill="#000" stroke="#000" stroke-width="0.12" textLength="51.4" lengthAdjust="spacingAndGlyphs">28 Dec 2018</text>
<rect class="c" x="451" y="597" width="1" height="3" fill="#000"/>
<text x="450.7" y="608.6" font-size="9.3" fill="#000" stroke="#000" stroke-width="0.12" textLength="44.8" lengthAdjust="spacingAndGlyphs">7 Jan 2019</text>
<rect class="c" x="515" y="597" width="1" height="3" fill="#000"/>
<text x="514.7" y="608.6" font-size="9.3" fill="#000" stroke="#000" stroke-width="0.12" textLength="49.1" lengthAdjust="spacingAndGlyphs">16 Jan 2019</text>
<rect class="c" x="579" y="597" width="1" height="3" fill="#000"/>
<text x="578.7" y="608.6" font-size="9.3" fill="#000" stroke="#000" stroke-width="0.12" textLength="49.1" lengthAdjust="spacingAndGlyphs">25 Jan 2019</text>
<rect class="c" x="643" y="597" width="1" height="3" fill="#000"/>
<text x="642.7" y="608.6" font-size="9.3" fill="#000" stroke="#000" stroke-width="0.12" textLength="46.1" lengthAdjust="spacingAndGlyphs">4 Feb 2019</text>
<rect class="c" x="707" y="597" width="1" height="3" fill="#000"/>
<text x="706.7" y="608.6" font-size="9.3" fill="#000" stroke="#000" stroke-width="0.12" textLength="50.8" lengthAdjust="spacingAndGlyphs">13 Feb 2019</text>
<rect class="c" x="771" y="597" width="1" height="3" fill="#000"/>
<text x="770.7" y="608.6" font-size="9.3" fill="#000" stroke="#000" stroke-width="0.12" textLength="51.5" lengthAdjust="spacingAndGlyphs">22 Feb 2019</text>
<rect class="c" x="835" y="597" width="1" height="3" fill="#000"/>
<text x="834.7" y="608.6" font-size="9.3" fill="#000" stroke="#000" stroke-width="0.12" textLength="46.8" lengthAdjust="spacingAndGlyphs">4 Mar 2019</text>
<rect class="c" x="899" y="597" width="1" height="3" fill="#000"/>
<text x="898.7" y="608.6" font-size="9.3" fill="#000" stroke="#000" stroke-width="0.12" textLength="51.4" lengthAdjust="spacingAndGlyphs">13 Mar 2019</text>
<rect class="c" x="0" y="617" width="1206" height="1" fill="#e2e2e2"/>
<rect class="c" x="0" y="618" width="1206" height="22" fill="#f0f0f0"/>
<rect class="c" x="0" y="640" width="1206" height="3" fill="#fcfcfc"/>
<rect class="c" x="0" y="643" width="1206" height="1" fill="#b2b2b2"/>
<rect class="c" x="0" y="644" width="1206" height="2" fill="#f0f0f0"/>
<rect class="c" x="109" y="618" width="102" height="19" fill="#fff"/>
<rect class="c" x="0" y="619" width="109" height="1" fill="#000"/>
<rect class="c" x="108" y="619" width="1" height="19" fill="#000"/>
<rect class="c" x="108" y="637" width="104" height="1" fill="#000"/>
<rect class="c" x="211" y="619" width="1" height="19" fill="#000"/>
<rect class="c" x="211" y="619" width="995" height="1" fill="#000"/>
<rect class="c" x="107" y="620" width="1" height="18" fill="#fafafa"/>
<text x="16.3" y="634" font-size="12.3" fill="#757575" textLength="79.6" lengthAdjust="spacingAndGlyphs">EURUSD,Daily</text>
<text x="119.6" y="634" font-size="12.3" fill="#000" textLength="80.7" lengthAdjust="spacingAndGlyphs">AUDUSD,Daily</text>
<text x="222.6" y="634" font-size="12.3" fill="#757575" textLength="77.9" lengthAdjust="spacingAndGlyphs">USDCHF,Daily</text>
<text x="323.7" y="634" font-size="12.3" fill="#757575" textLength="79.3" lengthAdjust="spacingAndGlyphs">USDCAD,Daily</text>
<text x="426.5" y="634" font-size="12.3" fill="#757575" textLength="69.7" lengthAdjust="spacingAndGlyphs">USDCNH,H4</text>
<text x="518.4" y="634" font-size="12.3" fill="#757575" textLength="74.0" lengthAdjust="spacingAndGlyphs">USDJPY,Daily</text>
<text x="614.8" y="634" font-size="12.3" fill="#757575" textLength="69.0" lengthAdjust="spacingAndGlyphs">XAUUSD,H1</text>
<text x="708.7" y="634" font-size="12.3" fill="#757575" textLength="67.0" lengthAdjust="spacingAndGlyphs">GBPUSD,H4</text>
<text x="799.9" y="634" font-size="12.3" fill="#757575" textLength="63.7" lengthAdjust="spacingAndGlyphs">SP500,M15</text>
<text x="888.5" y="634" font-size="12.3" fill="#757575" textLength="78.9" lengthAdjust="spacingAndGlyphs">GBPUSD,Daily</text>
<text x="990.3" y="634" font-size="12.3" fill="#757575" textLength="46.3" lengthAdjust="spacingAndGlyphs">DJ30,H4</text>
<text x="1058.7" y="634" font-size="12.3" fill="#757575" textLength="69.9" lengthAdjust="spacingAndGlyphs">TECH100,H1</text>
<defs><clipPath id="ck"><rect x="1150" y="620" width="25.3" height="18"/></clipPath></defs>
<text x="1152.5" y="634" font-size="12.3" fill="#757575" clip-path="url(#ck)">UKOIL,H1</text>
<rect class="c" x="312" y="622" width="1" height="14" fill="#858585"/>
<rect class="c" x="416" y="622" width="1" height="14" fill="#858585"/>
<rect class="c" x="508" y="622" width="1" height="14" fill="#858585"/>
<rect class="c" x="604" y="622" width="1" height="14" fill="#858585"/>
<rect class="c" x="696" y="622" width="1" height="14" fill="#858585"/>
<rect class="c" x="788" y="622" width="1" height="14" fill="#858585"/>
<rect class="c" x="876" y="622" width="1" height="14" fill="#858585"/>
<rect class="c" x="980" y="622" width="1" height="14" fill="#858585"/>
<rect class="c" x="1048" y="622" width="1" height="14" fill="#858585"/>
<rect class="c" x="1140" y="622" width="1" height="14" fill="#858585"/>
<path d="M1184.2 624.8 L1184.2 631.2 L1180.8 628 Z" fill="#909090"/>
<path d="M1199.6 624.8 L1199.6 631.2 L1203.4 628 Z" fill="#000"/>
</svg>
</body></html>
